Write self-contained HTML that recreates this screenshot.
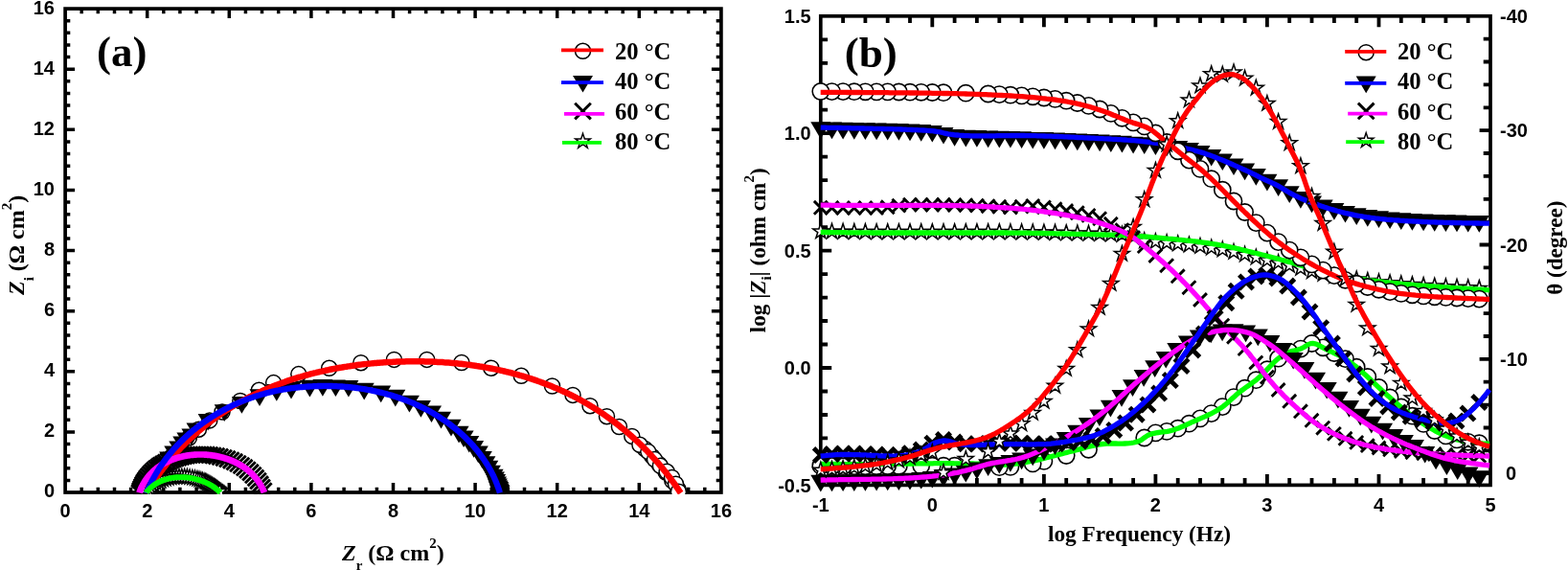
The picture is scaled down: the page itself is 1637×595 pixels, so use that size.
<!DOCTYPE html>
<html><head><meta charset="utf-8"><title>EIS Nyquist and Bode plots</title>
<style>html,body{margin:0;padding:0;background:#fff}svg{display:block}</style></head>
<body><svg width="1637" height="595" viewBox="0 0 1637 595">
<rect width="1637" height="595" fill="#fff"/>
<defs>
<circle id="mc" cx="0" cy="0" r="8.0" fill="#fff" stroke="#000" stroke-width="1.5"/>
<circle id="mcb" cx="0" cy="0" r="8.6" fill="#fff" stroke="#000" stroke-width="1.6"/>
<polygon id="mt" points="-10.5,-7.3 10.5,-7.3 0,10.4" fill="#000"/>
<path id="mx" d="M-8.3 -8.3L8.3 8.3M-8.3 8.3L8.3 -8.3" stroke="#000" stroke-width="3" fill="none"/>
<path id="mxs" d="M-6.9 -6.9L6.9 6.9M-6.9 6.9L6.9 -6.9" stroke="#000" stroke-width="2.9" fill="none"/>
<path id="mxb" d="M-7.3 -7.3L7.3 7.3M-7.3 7.3L7.3 -7.3" stroke="#000" stroke-width="4.8" fill="none"/>
<polygon id="ms" points="0.00,-8.20 1.84,-2.53 7.80,-2.53 2.98,0.97 4.82,6.63 0.00,3.13 -4.82,6.63 -2.98,0.97 -7.80,-2.53 -1.84,-2.53" fill="#fff" stroke="#000" stroke-width="1.45" stroke-linejoin="miter"/>
<polygon id="msb" points="0.00,-8.40 1.89,-2.60 7.99,-2.60 3.05,0.99 4.94,6.80 0.00,3.21 -4.94,6.80 -3.05,0.99 -7.99,-2.60 -1.89,-2.60" fill="#fff" stroke="#000" stroke-width="1.5" stroke-linejoin="miter"/>
<clipPath id="ca"><rect x="56.1" y="-2.9" width="708.8" height="518.8"/></clipPath>
<clipPath id="cb"><rect x="844.8" y="4.8" width="723.2" height="507.6"/></clipPath>
</defs>
<rect x="68.1" y="9.1" width="684.8" height="504.9" fill="none" stroke="#000" stroke-width="3.7"/><path d="M85.2 514 v-5.2M85.2 9.1 v5.2M102.3 514 v-5.2M102.3 9.1 v5.2M119.5 514 v-5.2M119.5 9.1 v5.2M136.6 514 v-5.2M136.6 9.1 v5.2M153.7 514 v-10M153.7 9.1 v10M170.8 514 v-5.2M170.8 9.1 v5.2M187.9 514 v-5.2M187.9 9.1 v5.2M205.1 514 v-5.2M205.1 9.1 v5.2M222.2 514 v-5.2M222.2 9.1 v5.2M239.3 514 v-10M239.3 9.1 v10M256.4 514 v-5.2M256.4 9.1 v5.2M273.5 514 v-5.2M273.5 9.1 v5.2M290.7 514 v-5.2M290.7 9.1 v5.2M307.8 514 v-5.2M307.8 9.1 v5.2M324.9 514 v-10M324.9 9.1 v10M342 514 v-5.2M342 9.1 v5.2M359.1 514 v-5.2M359.1 9.1 v5.2M376.3 514 v-5.2M376.3 9.1 v5.2M393.4 514 v-5.2M393.4 9.1 v5.2M410.5 514 v-10M410.5 9.1 v10M427.6 514 v-5.2M427.6 9.1 v5.2M444.7 514 v-5.2M444.7 9.1 v5.2M461.9 514 v-5.2M461.9 9.1 v5.2M479 514 v-5.2M479 9.1 v5.2M496.1 514 v-10M496.1 9.1 v10M513.2 514 v-5.2M513.2 9.1 v5.2M530.3 514 v-5.2M530.3 9.1 v5.2M547.5 514 v-5.2M547.5 9.1 v5.2M564.6 514 v-5.2M564.6 9.1 v5.2M581.7 514 v-10M581.7 9.1 v10M598.8 514 v-5.2M598.8 9.1 v5.2M615.9 514 v-5.2M615.9 9.1 v5.2M633.1 514 v-5.2M633.1 9.1 v5.2M650.2 514 v-5.2M650.2 9.1 v5.2M667.3 514 v-10M667.3 9.1 v10M684.4 514 v-5.2M684.4 9.1 v5.2M701.5 514 v-5.2M701.5 9.1 v5.2M718.7 514 v-5.2M718.7 9.1 v5.2M735.8 514 v-5.2M735.8 9.1 v5.2M68.1 501.4 h5.2M752.9 501.4 h-5.2M68.1 488.8 h5.2M752.9 488.8 h-5.2M68.1 476.1 h5.2M752.9 476.1 h-5.2M68.1 463.5 h5.2M752.9 463.5 h-5.2M68.1 450.9 h10M752.9 450.9 h-10M68.1 438.3 h5.2M752.9 438.3 h-5.2M68.1 425.6 h5.2M752.9 425.6 h-5.2M68.1 413 h5.2M752.9 413 h-5.2M68.1 400.4 h5.2M752.9 400.4 h-5.2M68.1 387.8 h10M752.9 387.8 h-10M68.1 375.2 h5.2M752.9 375.2 h-5.2M68.1 362.5 h5.2M752.9 362.5 h-5.2M68.1 349.9 h5.2M752.9 349.9 h-5.2M68.1 337.3 h5.2M752.9 337.3 h-5.2M68.1 324.7 h10M752.9 324.7 h-10M68.1 312 h5.2M752.9 312 h-5.2M68.1 299.4 h5.2M752.9 299.4 h-5.2M68.1 286.8 h5.2M752.9 286.8 h-5.2M68.1 274.2 h5.2M752.9 274.2 h-5.2M68.1 261.6 h10M752.9 261.6 h-10M68.1 248.9 h5.2M752.9 248.9 h-5.2M68.1 236.3 h5.2M752.9 236.3 h-5.2M68.1 223.7 h5.2M752.9 223.7 h-5.2M68.1 211.1 h5.2M752.9 211.1 h-5.2M68.1 198.4 h10M752.9 198.4 h-10M68.1 185.8 h5.2M752.9 185.8 h-5.2M68.1 173.2 h5.2M752.9 173.2 h-5.2M68.1 160.6 h5.2M752.9 160.6 h-5.2M68.1 147.9 h5.2M752.9 147.9 h-5.2M68.1 135.3 h10M752.9 135.3 h-10M68.1 122.7 h5.2M752.9 122.7 h-5.2M68.1 110.1 h5.2M752.9 110.1 h-5.2M68.1 97.5 h5.2M752.9 97.5 h-5.2M68.1 84.8 h5.2M752.9 84.8 h-5.2M68.1 72.2 h10M752.9 72.2 h-10M68.1 59.6 h5.2M752.9 59.6 h-5.2M68.1 47 h5.2M752.9 47 h-5.2M68.1 34.3 h5.2M752.9 34.3 h-5.2M68.1 21.7 h5.2M752.9 21.7 h-5.2" stroke="#000" stroke-width="3.5" fill="none"/>
<g clip-path="url(#ca)">
<use href="#mc" x="152.7" y="514.8"/><use href="#mc" x="154.3" y="512.2"/><use href="#mc" x="156" y="509.4"/><use href="#mc" x="158" y="506.4"/><use href="#mc" x="160.2" y="503"/><use href="#mc" x="162.7" y="499.4"/><use href="#mc" x="165.6" y="495.4"/><use href="#mc" x="168.8" y="491.1"/><use href="#mc" x="172.4" y="486.4"/><use href="#mc" x="176.5" y="481.3"/><use href="#mc" x="181.2" y="475.8"/><use href="#mc" x="186.6" y="469.9"/><use href="#mc" x="673.2" y="468.5"/><use href="#mc" x="680.8" y="476.4"/><use href="#mc" x="688.1" y="484.6"/><use href="#mc" x="695.1" y="493.1"/><use href="#mc" x="701.8" y="501.9"/><use href="#mc" x="708.1" y="510.9"/><use href="#mc" x="197.4" y="457"/><use href="#mc" x="207.4" y="448.2"/><use href="#mc" x="218.8" y="438.9"/><use href="#mc" x="232" y="430"/><use href="#mc" x="250.8" y="418.5"/><use href="#mc" x="270.4" y="407.3"/><use href="#mc" x="285.6" y="399.6"/><use href="#mc" x="311.8" y="390.6"/><use href="#mc" x="343.7" y="384.3"/><use href="#mc" x="376.8" y="378.7"/><use href="#mc" x="411.4" y="375.4"/><use href="#mc" x="445.7" y="375.4"/><use href="#mc" x="481.9" y="378.5"/><use href="#mc" x="512.8" y="384.2"/><use href="#mc" x="544.2" y="392.3"/><use href="#mc" x="576.5" y="403"/><use href="#mc" x="598" y="412.4"/><use href="#mc" x="616" y="423.7"/><use href="#mc" x="633.5" y="434.7"/><use href="#mc" x="646.4" y="445.5"/><use href="#mc" x="659.8" y="455.4"/><use href="#mc" x="667.9" y="464.3"/><use href="#mc" x="676.8" y="471.6"/><use href="#mc" x="683.5" y="479.6"/><use href="#mc" x="689.4" y="486.3"/><use href="#mc" x="696.1" y="492.3"/><use href="#mc" x="701.5" y="498.4"/><use href="#mc" x="705.5" y="505.2"/><use href="#mc" x="708.4" y="513.2"/>
<use href="#mt" x="152.8" y="514.8"/><use href="#mt" x="153.4" y="513.4"/><use href="#mt" x="154" y="511.9"/><use href="#mt" x="154.8" y="510.2"/><use href="#mt" x="155.6" y="508.3"/><use href="#mt" x="156.6" y="506.3"/><use href="#mt" x="157.7" y="504"/><use href="#mt" x="158.9" y="501.5"/><use href="#mt" x="160.4" y="498.8"/><use href="#mt" x="162.1" y="495.8"/><use href="#mt" x="164" y="492.6"/><use href="#mt" x="166.2" y="489"/><use href="#mt" x="168.8" y="485.1"/><use href="#mt" x="176.7" y="478.9"/><use href="#mt" x="181.8" y="472.9"/><use href="#mt" x="186.8" y="467.8"/><use href="#mt" x="190.8" y="462.8"/><use href="#mt" x="194.9" y="458.7"/><use href="#mt" x="199.9" y="454.7"/><use href="#mt" x="205" y="448.7"/><use href="#mt" x="217.1" y="439.2"/><use href="#mt" x="234.2" y="429.5"/><use href="#mt" x="252.4" y="421.3"/><use href="#mt" x="271" y="413.5"/><use href="#mt" x="288.8" y="408.3"/><use href="#mt" x="304" y="406"/><use href="#mt" x="323.4" y="404"/><use href="#mt" x="336.9" y="403.3"/><use href="#mt" x="350.4" y="403.7"/><use href="#mt" x="363.9" y="404.2"/><use href="#mt" x="380.2" y="407"/><use href="#mt" x="397.7" y="409.8"/><use href="#mt" x="412.8" y="414"/><use href="#mt" x="427.4" y="420"/><use href="#mt" x="439.4" y="425.4"/><use href="#mt" x="450.5" y="430.7"/><use href="#mt" x="460.5" y="437"/><use href="#mt" x="471" y="445"/><use href="#mt" x="479.1" y="452.1"/><use href="#mt" x="484.1" y="456.7"/><use href="#mt" x="489.8" y="462.2"/><use href="#mt" x="494.6" y="467.4"/><use href="#mt" x="499.3" y="472.9"/><use href="#mt" x="503.3" y="478.3"/><use href="#mt" x="506.9" y="483.6"/><use href="#mt" x="509.8" y="488"/><use href="#mt" x="512.4" y="493"/><use href="#mt" x="515.1" y="497"/><use href="#mt" x="516.4" y="499.8"/><use href="#mt" x="517.6" y="502.4"/><use href="#mt" x="518.5" y="504.7"/><use href="#mt" x="519.3" y="506.8"/><use href="#mt" x="520" y="508.7"/><use href="#mt" x="520.6" y="510.4"/><use href="#mt" x="521.1" y="511.9"/><use href="#mt" x="521.6" y="513.3"/><use href="#mt" x="522" y="514.6"/>
<use href="#mx" x="145.5" y="514.4"/><use href="#mx" x="146.2" y="512.3"/><use href="#mx" x="147.1" y="510.2"/><use href="#mx" x="148.1" y="508"/><use href="#mx" x="149.2" y="505.8"/><use href="#mx" x="150.4" y="503.6"/><use href="#mx" x="151.8" y="501.4"/><use href="#mx" x="153.4" y="499.2"/><use href="#mx" x="155.2" y="497"/><use href="#mx" x="157" y="494.9"/><use href="#mx" x="159" y="492.9"/><use href="#mx" x="161.1" y="490.9"/><use href="#mx" x="163.3" y="489.1"/><use href="#mx" x="165.5" y="487.4"/><use href="#mx" x="167.9" y="485.8"/><use href="#mx" x="170.3" y="484.3"/><use href="#mx" x="172.8" y="482.9"/><use href="#mx" x="175.4" y="481.6"/><use href="#mx" x="178.1" y="480.5"/><use href="#mx" x="180.8" y="479.4"/><use href="#mx" x="183.5" y="478.4"/><use href="#mx" x="186.3" y="477.6"/><use href="#mx" x="189.1" y="476.8"/><use href="#mx" x="192" y="476.2"/><use href="#mx" x="194.9" y="475.6"/><use href="#mx" x="197.8" y="475.2"/><use href="#mx" x="200.7" y="474.9"/><use href="#mx" x="203.7" y="474.6"/><use href="#mx" x="206.7" y="474.5"/><use href="#mx" x="209.7" y="474.5"/><use href="#mx" x="212.7" y="474.5"/><use href="#mx" x="215.8" y="474.7"/><use href="#mx" x="219" y="475"/><use href="#mx" x="222.5" y="475.5"/><use href="#mx" x="226" y="476.1"/><use href="#mx" x="229.8" y="476.9"/><use href="#mx" x="233.6" y="478"/><use href="#mx" x="237.4" y="479.2"/><use href="#mx" x="241.2" y="480.6"/><use href="#mx" x="244.8" y="482.2"/><use href="#mx" x="248.4" y="484"/><use href="#mx" x="251.9" y="486"/><use href="#mx" x="255.2" y="488.2"/><use href="#mx" x="258.4" y="490.6"/><use href="#mx" x="261.5" y="493.2"/><use href="#mx" x="264.3" y="496"/><use href="#mx" x="267" y="498.9"/><use href="#mx" x="269.5" y="502.1"/><use href="#mx" x="271.7" y="505.4"/><use href="#mx" x="273.6" y="508.9"/><use href="#mx" x="275.3" y="512.6"/>
<use href="#ms" x="152.7" y="513.8"/><use href="#ms" x="154.5" y="511.6"/><use href="#ms" x="156.4" y="509.6"/><use href="#ms" x="158.5" y="507.7"/><use href="#ms" x="160.7" y="506"/><use href="#ms" x="163" y="504.4"/><use href="#ms" x="165.4" y="503"/><use href="#ms" x="168" y="501.8"/><use href="#ms" x="170.5" y="500.7"/><use href="#ms" x="173.2" y="499.9"/><use href="#ms" x="175.9" y="499.1"/><use href="#ms" x="178.6" y="498.5"/><use href="#ms" x="181.4" y="498.1"/><use href="#ms" x="184.2" y="497.8"/><use href="#ms" x="187" y="497.6"/><use href="#ms" x="189.8" y="497.6"/><use href="#ms" x="192.6" y="497.7"/><use href="#ms" x="195.4" y="497.9"/><use href="#ms" x="198.1" y="498.3"/><use href="#ms" x="200.9" y="498.8"/><use href="#ms" x="203.5" y="499.3"/><use href="#ms" x="205.9" y="500"/><use href="#ms" x="208" y="500.6"/><use href="#ms" x="209.9" y="501.2"/><use href="#ms" x="211.6" y="501.9"/><use href="#ms" x="213.1" y="502.5"/><use href="#ms" x="214.4" y="503.1"/><use href="#ms" x="215.7" y="503.6"/><use href="#ms" x="216.8" y="504.2"/><use href="#ms" x="217.8" y="504.7"/><use href="#ms" x="218.9" y="505.3"/><use href="#ms" x="219.9" y="505.9"/><use href="#ms" x="220.9" y="506.5"/><use href="#ms" x="221.8" y="507.1"/><use href="#ms" x="222.8" y="507.7"/><use href="#ms" x="223.7" y="508.3"/><use href="#ms" x="224.6" y="508.9"/><use href="#ms" x="225.4" y="509.6"/><use href="#ms" x="226.3" y="510.3"/><use href="#ms" x="227.1" y="510.9"/><use href="#ms" x="227.9" y="511.6"/><use href="#ms" x="228.6" y="512.3"/><use href="#ms" x="229.4" y="513"/>
<path d="M152.7 514.8 L153.6 513.4 L154.4 512 L155.3 510.6 L156.2 509.2 L157 507.9 L157.9 506.5 L158.8 505.1 L159.7 503.8 L160.6 502.4 L161.6 501.1 L162.5 499.7 L163.4 498.4 L164.4 497 L165.3 495.7 L166.3 494.4 L167.3 493.1 L168.3 491.7 L169.3 490.4 L170.3 489.1 L171.3 487.8 L172.3 486.6 L173.3 485.3 L174.3 484 L175.4 482.7 L176.4 481.5 L177.5 480.2 L178.5 479 L179.6 477.7 L180.7 476.5 L181.8 475.2 L182.9 474 L184 472.8 L185.1 471.6 L186.2 470.4 L187.3 469.2 L188.4 468 L189.6 466.8 L190.7 465.6 L191.9 464.5 L193 463.3 L194.2 462.2 L195.4 461 L196.5 459.9 L197.7 458.7 L198.9 457.6 L200.1 456.5 L201.3 455.4 L202.5 454.3 L203.7 453.2 L205 452.1 L206.2 451 L207.4 450 L208.7 448.9 L209.9 447.9 L211.2 446.8 L212.5 445.8 L213.7 444.7 L215 443.7 L216.3 442.7 L217.6 441.7 L218.9 440.7 L220.2 439.7 L221.5 438.7 L222.8 437.8 L224.1 436.8 L225.4 435.8 L226.7 434.9 L228.1 434 L229.4 433 L230.7 432.1 L232.1 431.2 L233.4 430.3 L234.8 429.4 L236.1 428.5 L237.5 427.6 L238.9 426.7 L240.2 425.9 L241.6 425 L243 424.2 L244.4 423.3 L245.8 422.5 L247.2 421.7 L248.6 420.9 L250 420.1 L251.4 419.3 L252.8 418.5 L254.2 417.7 L255.7 417 L257.1 416.2 L258.5 415.5 L260 414.7 L261.4 414 L262.8 413.2 L264.3 412.5 L265.7 411.8 L267.2 411.1 L268.7 410.4 L270.1 409.7 L271.6 409.1 L273.1 408.4 L274.5 407.7 L276 407.1 L277.5 406.4 L279 405.8 L280.5 405.2 L282 404.5 L283.4 403.9 L284.9 403.3 L286.4 402.7 L288 402.1 L289.5 401.6 L291 401 L292.5 400.4 L294 399.9 L295.5 399.3 L297.1 398.8 L298.6 398.2 L300.1 397.7 L301.6 397.2 L303.2 396.7 L304.7 396.2 L306.3 395.7 L307.8 395.2 L309.4 394.7 L310.9 394.2 L312.5 393.7 L314 393.3 L315.6 392.8 L317.1 392.4 L318.7 391.9 L320.3 391.5 L321.8 391.1 L323.4 390.7 L325 390.2 L326.6 389.8 L328.1 389.4 L329.7 389.1 L331.3 388.7 L332.9 388.3 L334.5 387.9 L336.1 387.6 L337.7 387.2 L339.3 386.9 L340.9 386.5 L342.5 386.2 L344.1 385.8 L345.7 385.5 L347.3 385.2 L348.9 384.9 L350.5 384.6 L352.1 384.3 L353.7 384 L355.3 383.7 L356.9 383.5 L358.5 383.2 L360.2 382.9 L361.8 382.7 L363.4 382.4 L365 382.2 L366.6 381.9 L368.3 381.7 L369.9 381.5 L371.5 381.3 L373.1 381 L374.8 380.8 L376.4 380.6 L378 380.4 L379.7 380.2 L381.3 380.1 L382.9 379.9 L384.6 379.7 L386.2 379.6 L387.8 379.4 L389.5 379.2 L391.1 379.1 L392.8 379 L394.4 378.8 L396 378.7 L397.7 378.6 L399.3 378.4 L401 378.3 L402.6 378.2 L404.3 378.1 L405.9 378 L407.5 377.9 L409.2 377.9 L410.8 377.8 L412.5 377.7 L414.1 377.6 L415.8 377.6 L417.4 377.5 L419.1 377.5 L420.7 377.4 L422.4 377.4 L424 377.3 L425.7 377.3 L427.3 377.3 L428.9 377.3 L430.6 377.3 L432.2 377.3 L433.9 377.3 L435.5 377.3 L437.2 377.3 L438.8 377.3 L440.5 377.3 L442.1 377.3 L443.8 377.4 L445.4 377.4 L447 377.5 L448.7 377.5 L450.3 377.6 L452 377.6 L453.6 377.7 L455.3 377.8 L456.9 377.9 L458.5 377.9 L460.2 378 L461.8 378.1 L463.5 378.3 L465.1 378.4 L466.7 378.5 L468.4 378.6 L470 378.7 L471.6 378.9 L473.3 379 L474.9 379.2 L476.5 379.3 L478.1 379.5 L479.8 379.7 L481.4 379.8 L483 380 L484.7 380.2 L486.3 380.4 L487.9 380.6 L489.5 380.8 L491.1 381 L492.8 381.3 L494.4 381.5 L496 381.7 L497.6 382 L499.2 382.2 L500.8 382.5 L502.4 382.7 L504 383 L505.6 383.3 L507.3 383.6 L508.9 383.9 L510.5 384.2 L512.1 384.5 L513.7 384.8 L515.2 385.1 L516.8 385.4 L518.4 385.7 L520 386.1 L521.6 386.4 L523.2 386.8 L524.8 387.1 L526.4 387.5 L527.9 387.9 L529.5 388.3 L531.1 388.6 L532.7 389 L534.2 389.4 L535.8 389.9 L537.4 390.3 L538.9 390.7 L540.5 391.1 L542 391.6 L543.6 392 L545.2 392.5 L546.7 392.9 L548.3 393.4 L549.8 393.9 L551.3 394.4 L552.9 394.8 L554.4 395.3 L556 395.9 L557.5 396.4 L559 396.9 L560.6 397.4 L562.1 398 L563.6 398.5 L565.1 399.1 L566.6 399.6 L568.1 400.2 L569.7 400.8 L571.2 401.3 L572.7 401.9 L574.2 402.5 L575.7 403.1 L577.2 403.8 L578.6 404.4 L580.1 405 L581.6 405.6 L583.1 406.3 L584.6 406.9 L586 407.6 L587.5 408.3 L589 409 L590.4 409.6 L591.9 410.3 L593.4 411 L594.8 411.8 L596.3 412.5 L597.7 413.2 L599.1 413.9 L600.6 414.7 L602 415.4 L603.4 416.2 L604.9 417 L606.3 417.7 L607.7 418.5 L609.1 419.3 L610.5 420.1 L611.9 420.9 L613.4 421.8 L614.7 422.6 L616.1 423.4 L617.5 424.3 L618.9 425.1 L620.3 426 L621.7 426.9 L623.1 427.7 L624.4 428.6 L625.8 429.5 L627.1 430.4 L628.5 431.3 L629.8 432.2 L631.2 433.2 L632.5 434.1 L633.9 435.1 L635.2 436 L636.5 437 L637.9 437.9 L639.2 438.9 L640.5 439.9 L641.8 440.9 L643.1 441.9 L644.4 442.9 L645.7 443.9 L647 444.9 L648.2 445.9 L649.5 447 L650.8 448 L652.1 449.1 L653.3 450.1 L654.6 451.2 L655.8 452.2 L657 453.3 L658.3 454.4 L659.5 455.5 L660.7 456.6 L662 457.7 L663.2 458.8 L664.4 459.9 L665.6 461 L666.8 462.2 L668 463.3 L669.1 464.4 L670.3 465.6 L671.5 466.7 L672.6 467.9 L673.8 469.1 L675 470.2 L676.1 471.4 L677.2 472.6 L678.4 473.8 L679.5 475 L680.6 476.2 L681.7 477.4 L682.8 478.6 L683.9 479.8 L685 481.1 L686.1 482.3 L687.2 483.5 L688.2 484.8 L689.3 486 L690.3 487.3 L691.4 488.5 L692.4 489.8 L693.4 491.1 L694.5 492.3 L695.5 493.6 L696.5 494.9 L697.5 496.2 L698.5 497.5 L699.5 498.8 L700.5 500.1 L701.4 501.4 L702.4 502.7 L703.3 504 L704.3 505.3 L705.2 506.7 L706.2 508 L707.1 509.3 L708 510.7 L708.9 512 L709.8 513.4 L710.7 514.7" fill="none" stroke="#ff0000" stroke-width="6.5" stroke-linejoin="round"/>
<path d="M145.5 514.4 L145.6 514 L145.8 513.6 L145.9 513.2 L146.1 512.8 L146.2 512.4 L146.4 512 L146.5 511.6 L146.7 511.2 L146.8 510.8 L147 510.4 L147.2 510 L147.3 509.6 L147.5 509.2 L147.7 508.8 L147.9 508.5 L148 508.1 L148.2 507.7 L148.4 507.3 L148.6 507 L148.8 506.6 L149 506.2 L149.2 505.9 L149.4 505.5 L149.6 505.1 L149.8 504.8 L150 504.4 L150.2 504.1 L150.4 503.7 L150.6 503.4 L150.8 503 L151 502.7 L151.2 502.3 L151.5 502 L151.7 501.7 L151.9 501.3 L152.1 501 L152.4 500.7 L152.6 500.3 L152.8 500 L153.1 499.7 L153.3 499.3 L153.5 499 L153.8 498.7 L154 498.4 L154.3 498.1 L154.5 497.8 L154.8 497.4 L155 497.1 L155.3 496.8 L155.6 496.5 L155.8 496.2 L156.1 495.9 L156.3 495.6 L156.6 495.3 L156.9 495 L157.1 494.7 L157.4 494.5 L157.7 494.2 L158 493.9 L158.3 493.6 L158.5 493.3 L158.8 493 L159.1 492.8 L159.4 492.5 L159.7 492.2 L160 491.9 L160.3 491.7 L160.6 491.4 L160.8 491.1 L161.1 490.9 L161.4 490.6 L161.7 490.4 L162.1 490.1 L162.4 489.9 L162.7 489.6 L163 489.4 L163.3 489.1 L163.6 488.9 L163.9 488.6 L164.2 488.4 L164.5 488.1 L164.9 487.9 L165.2 487.7 L165.5 487.4 L165.8 487.2 L166.2 487 L166.5 486.7 L166.8 486.5 L167.1 486.3 L167.5 486.1 L167.8 485.9 L168.1 485.6 L168.5 485.4 L168.8 485.2 L169.2 485 L169.5 484.8 L169.8 484.6 L170.2 484.4 L170.5 484.2 L170.9 484 L171.2 483.8 L171.6 483.6 L171.9 483.4 L172.3 483.2 L172.6 483 L173 482.8 L173.4 482.7 L173.7 482.5 L174.1 482.3 L174.4 482.1 L174.8 481.9 L175.2 481.8 L175.5 481.6 L175.9 481.4 L176.3 481.3 L176.6 481.1 L177 480.9 L177.4 480.8 L177.7 480.6 L178.1 480.5 L178.5 480.3 L178.9 480.1 L179.2 480 L179.6 479.8 L180 479.7 L180.4 479.5 L180.7 479.4 L181.1 479.3 L181.5 479.1 L181.9 479 L182.3 478.9 L182.7 478.7 L183 478.6 L183.4 478.5 L183.8 478.3 L184.2 478.2 L184.6 478.1 L185 478 L185.4 477.8 L185.8 477.7 L186.2 477.6 L186.6 477.5 L187 477.4 L187.4 477.3 L187.8 477.2 L188.2 477.1 L188.6 477 L189 476.9 L189.4 476.8 L189.8 476.7 L190.2 476.6 L190.6 476.5 L191 476.4 L191.4 476.3 L191.8 476.2 L192.2 476.1 L192.6 476.1 L193 476 L193.4 475.9 L193.8 475.8 L194.2 475.8 L194.6 475.7 L195 475.6 L195.4 475.6 L195.8 475.5 L196.3 475.4 L196.7 475.4 L197.1 475.3 L197.5 475.2 L197.9 475.2 L198.3 475.1 L198.7 475.1 L199.1 475 L199.6 475 L200 474.9 L200.4 474.9 L200.8 474.9 L201.2 474.8 L201.6 474.8 L202 474.8 L202.5 474.7 L202.9 474.7 L203.3 474.7 L203.7 474.6 L204.1 474.6 L204.5 474.6 L205 474.6 L205.4 474.5 L205.8 474.5 L206.2 474.5 L206.6 474.5 L207.1 474.5 L207.5 474.5 L207.9 474.5 L208.3 474.5 L208.7 474.5 L209.2 474.5 L209.6 474.5 L210 474.5 L210.4 474.5 L210.8 474.5 L211.3 474.5 L211.7 474.5 L212.1 474.5 L212.5 474.5 L212.9 474.5 L213.3 474.6 L213.8 474.6 L214.2 474.6 L214.6 474.6 L215 474.7 L215.4 474.7 L215.9 474.7 L216.3 474.8 L216.7 474.8 L217.1 474.8 L217.5 474.9 L218 474.9 L218.4 475 L218.8 475 L219.2 475 L219.6 475.1 L220 475.1 L220.5 475.2 L220.9 475.3 L221.3 475.3 L221.7 475.4 L222.1 475.4 L222.5 475.5 L222.9 475.6 L223.4 475.6 L223.8 475.7 L224.2 475.8 L224.6 475.8 L225 475.9 L225.4 476 L225.8 476.1 L226.2 476.1 L226.6 476.2 L227.1 476.3 L227.5 476.4 L227.9 476.5 L228.3 476.6 L228.7 476.7 L229.1 476.8 L229.5 476.9 L229.9 477 L230.3 477.1 L230.7 477.2 L231.1 477.3 L231.5 477.4 L231.9 477.5 L232.3 477.6 L232.7 477.7 L233.1 477.8 L233.5 477.9 L233.9 478 L234.3 478.2 L234.7 478.3 L235.1 478.4 L235.5 478.5 L235.9 478.7 L236.3 478.8 L236.7 478.9 L237.1 479.1 L237.5 479.2 L237.9 479.3 L238.2 479.5 L238.6 479.6 L239 479.8 L239.4 479.9 L239.8 480 L240.2 480.2 L240.6 480.3 L240.9 480.5 L241.3 480.7 L241.7 480.8 L242.1 481 L242.5 481.1 L242.8 481.3 L243.2 481.5 L243.6 481.6 L244 481.8 L244.3 482 L244.7 482.1 L245.1 482.3 L245.4 482.5 L245.8 482.7 L246.2 482.8 L246.5 483 L246.9 483.2 L247.3 483.4 L247.6 483.6 L248 483.8 L248.3 484 L248.7 484.2 L249.1 484.3 L249.4 484.5 L249.8 484.7 L250.1 484.9 L250.5 485.1 L250.8 485.4 L251.2 485.6 L251.5 485.8 L251.9 486 L252.2 486.2 L252.5 486.4 L252.9 486.6 L253.2 486.8 L253.6 487.1 L253.9 487.3 L254.2 487.5 L254.6 487.7 L254.9 488 L255.2 488.2 L255.6 488.4 L255.9 488.6 L256.2 488.9 L256.5 489.1 L256.9 489.4 L257.2 489.6 L257.5 489.8 L257.8 490.1 L258.1 490.3 L258.4 490.6 L258.8 490.8 L259.1 491.1 L259.4 491.3 L259.7 491.6 L260 491.9 L260.3 492.1 L260.6 492.4 L260.9 492.6 L261.2 492.9 L261.5 493.2 L261.8 493.4 L262.1 493.7 L262.4 494 L262.6 494.3 L262.9 494.5 L263.2 494.8 L263.5 495.1 L263.8 495.4 L264.1 495.7 L264.3 495.9 L264.6 496.2 L264.9 496.5 L265.1 496.8 L265.4 497.1 L265.7 497.4 L265.9 497.7 L266.2 498 L266.5 498.3 L266.7 498.6 L267 498.9 L267.2 499.2 L267.5 499.5 L267.7 499.8 L268 500.1 L268.2 500.5 L268.5 500.8 L268.7 501.1 L268.9 501.4 L269.2 501.7 L269.4 502.1 L269.6 502.4 L269.9 502.7 L270.1 503 L270.3 503.4 L270.5 503.7 L270.8 504 L271 504.4 L271.2 504.7 L271.4 505.1 L271.6 505.4 L271.8 505.7 L272 506.1 L272.2 506.4 L272.4 506.8 L272.6 507.1 L272.8 507.5 L273 507.8 L273.2 508.2 L273.4 508.6 L273.6 508.9 L273.8 509.3 L273.9 509.6 L274.1 510 L274.3 510.4 L274.5 510.7 L274.6 511.1 L274.8 511.5 L275 511.9 L275.1 512.2 L275.3 512.6 L275.5 513 L275.6 513.4 L275.8 513.8 L275.9 514.1" fill="none" stroke="#ff00ff" stroke-width="6.7" stroke-linejoin="round"/>
<path d="M152.8 514.8 L153.2 513.7 L153.7 512.6 L154.1 511.6 L154.6 510.5 L155.1 509.4 L155.6 508.4 L156.1 507.3 L156.6 506.3 L157.1 505.2 L157.6 504.2 L158.1 503.2 L158.6 502.1 L159.2 501.1 L159.7 500.1 L160.3 499.1 L160.8 498.1 L161.4 497.1 L161.9 496.1 L162.5 495.1 L163.1 494.1 L163.7 493.1 L164.3 492.1 L164.9 491.1 L165.5 490.2 L166.1 489.2 L166.7 488.2 L167.4 487.3 L168 486.3 L168.6 485.4 L169.3 484.4 L169.9 483.5 L170.6 482.5 L171.3 481.6 L172 480.7 L172.6 479.8 L173.3 478.8 L174 477.9 L174.7 477 L175.4 476.1 L176.1 475.2 L176.8 474.3 L177.6 473.4 L178.3 472.6 L179 471.7 L179.8 470.8 L180.5 469.9 L181.3 469.1 L182 468.2 L182.8 467.4 L183.6 466.5 L184.4 465.7 L185.1 464.8 L185.9 464 L186.7 463.2 L187.5 462.3 L188.3 461.5 L189.1 460.7 L190 459.9 L190.8 459.1 L191.6 458.3 L192.4 457.5 L193.3 456.7 L194.1 455.9 L195 455.1 L195.8 454.4 L196.7 453.6 L197.5 452.8 L198.4 452.1 L199.3 451.3 L200.2 450.6 L201 449.8 L201.9 449.1 L202.8 448.4 L203.7 447.7 L204.6 446.9 L205.5 446.2 L206.5 445.5 L207.4 444.8 L208.3 444.1 L209.2 443.4 L210.1 442.7 L211.1 442 L212 441.4 L213 440.7 L213.9 440 L214.9 439.4 L215.8 438.7 L216.8 438.1 L217.7 437.4 L218.7 436.8 L219.7 436.1 L220.7 435.5 L221.6 434.9 L222.6 434.3 L223.6 433.7 L224.6 433.1 L225.6 432.5 L226.6 431.9 L227.6 431.3 L228.6 430.7 L229.6 430.1 L230.6 429.6 L231.6 429 L232.6 428.5 L233.6 427.9 L234.6 427.4 L235.7 426.8 L236.7 426.3 L237.7 425.8 L238.7 425.2 L239.8 424.7 L240.8 424.2 L241.8 423.7 L242.9 423.2 L243.9 422.7 L245 422.2 L246 421.8 L247.1 421.3 L248.1 420.8 L249.2 420.4 L250.2 419.9 L251.3 419.5 L252.3 419 L253.4 418.6 L254.5 418.2 L255.5 417.7 L256.6 417.3 L257.7 416.9 L258.7 416.5 L259.8 416.1 L260.9 415.7 L262 415.3 L263.1 415 L264.1 414.6 L265.2 414.2 L266.3 413.8 L267.4 413.5 L268.5 413.1 L269.6 412.8 L270.7 412.5 L271.8 412.1 L272.9 411.8 L274 411.5 L275.1 411.2 L276.2 410.9 L277.3 410.6 L278.4 410.3 L279.5 410 L280.6 409.7 L281.7 409.4 L282.8 409.2 L283.9 408.9 L285 408.7 L286.2 408.4 L287.3 408.2 L288.4 407.9 L289.5 407.7 L290.6 407.5 L291.8 407.3 L292.9 407 L294 406.8 L295.1 406.6 L296.3 406.4 L297.4 406.3 L298.5 406.1 L299.7 405.9 L300.8 405.7 L301.9 405.6 L303.1 405.4 L304.2 405.2 L305.3 405.1 L306.5 405 L307.6 404.8 L308.8 404.7 L309.9 404.6 L311 404.4 L312.2 404.3 L313.3 404.2 L314.5 404.1 L315.6 404 L316.8 403.9 L317.9 403.8 L319.1 403.7 L320.2 403.6 L321.4 403.5 L322.5 403.5 L323.7 403.4 L324.8 403.3 L326 403.3 L327.1 403.2 L328.3 403.2 L329.4 403.1 L330.6 403.1 L331.8 403 L332.9 403 L334.1 403 L335.2 403 L336.4 403 L337.5 402.9 L338.7 402.9 L339.9 402.9 L341 402.9 L342.2 403 L343.3 403 L344.5 403 L345.7 403 L346.8 403 L348 403.1 L349.1 403.1 L350.3 403.2 L351.4 403.2 L352.6 403.3 L353.8 403.3 L354.9 403.4 L356.1 403.5 L357.2 403.5 L358.4 403.6 L359.5 403.7 L360.7 403.8 L361.9 403.9 L363 404 L364.2 404.1 L365.3 404.2 L366.5 404.4 L367.6 404.5 L368.8 404.6 L369.9 404.7 L371.1 404.9 L372.2 405 L373.4 405.2 L374.5 405.3 L375.7 405.5 L376.8 405.7 L378 405.8 L379.1 406 L380.2 406.2 L381.4 406.4 L382.5 406.6 L383.7 406.8 L384.8 407 L385.9 407.2 L387.1 407.4 L388.2 407.6 L389.3 407.9 L390.5 408.1 L391.6 408.3 L392.7 408.6 L393.8 408.8 L395 409.1 L396.1 409.4 L397.2 409.6 L398.3 409.9 L399.5 410.2 L400.6 410.5 L401.7 410.8 L402.8 411.1 L403.9 411.4 L405 411.7 L406.1 412 L407.2 412.3 L408.4 412.6 L409.5 412.9 L410.6 413.3 L411.7 413.6 L412.8 414 L413.8 414.3 L414.9 414.7 L416 415.1 L417.1 415.4 L418.2 415.8 L419.3 416.2 L420.4 416.6 L421.4 417 L422.5 417.4 L423.6 417.8 L424.7 418.2 L425.7 418.6 L426.8 419 L427.9 419.5 L428.9 419.9 L430 420.3 L431 420.8 L432.1 421.2 L433.2 421.7 L434.2 422.2 L435.2 422.6 L436.3 423.1 L437.3 423.6 L438.4 424.1 L439.4 424.6 L440.4 425.1 L441.5 425.6 L442.5 426.1 L443.5 426.6 L444.5 427.2 L445.5 427.7 L446.6 428.2 L447.6 428.8 L448.6 429.3 L449.6 429.9 L450.6 430.5 L451.6 431 L452.6 431.6 L453.5 432.2 L454.5 432.8 L455.5 433.4 L456.5 434 L457.5 434.6 L458.4 435.2 L459.4 435.8 L460.4 436.5 L461.3 437.1 L462.3 437.7 L463.2 438.4 L464.2 439 L465.1 439.7 L466.1 440.3 L467 441 L467.9 441.7 L468.9 442.4 L469.8 443.1 L470.7 443.8 L471.6 444.5 L472.5 445.2 L473.4 445.9 L474.3 446.6 L475.2 447.3 L476.1 448.1 L477 448.8 L477.9 449.6 L478.8 450.3 L479.6 451.1 L480.5 451.8 L481.4 452.6 L482.2 453.4 L483.1 454.2 L483.9 454.9 L484.7 455.7 L485.6 456.5 L486.4 457.3 L487.2 458.2 L488 459 L488.8 459.8 L489.6 460.6 L490.4 461.5 L491.2 462.3 L492 463.1 L492.8 464 L493.6 464.8 L494.3 465.7 L495.1 466.6 L495.8 467.5 L496.6 468.3 L497.3 469.2 L498 470.1 L498.8 471 L499.5 471.9 L500.2 472.8 L500.9 473.7 L501.6 474.6 L502.2 475.6 L502.9 476.5 L503.6 477.4 L504.3 478.4 L504.9 479.3 L505.6 480.3 L506.2 481.2 L506.8 482.2 L507.4 483.1 L508.1 484.1 L508.7 485.1 L509.3 486.1 L509.9 487.1 L510.4 488.1 L511 489.1 L511.6 490.1 L512.1 491.1 L512.7 492.1 L513.2 493.1 L513.7 494.1 L514.2 495.2 L514.8 496.2 L515.3 497.2 L515.8 498.3 L516.2 499.3 L516.7 500.4 L517.2 501.4 L517.6 502.5 L518.1 503.6 L518.5 504.7 L518.9 505.7 L519.3 506.8 L519.7 507.9 L520.1 509 L520.5 510.1 L520.9 511.2 L521.3 512.3 L521.6 513.4 L522 514.6" fill="none" stroke="#0000ff" stroke-width="6.3" stroke-linejoin="round"/>
<path d="M152.7 514.3 L152.8 514.1 L152.9 513.9 L153.1 513.7 L153.2 513.6 L153.4 513.4 L153.5 513.2 L153.6 513 L153.8 512.9 L153.9 512.7 L154.1 512.5 L154.2 512.4 L154.3 512.2 L154.5 512 L154.6 511.9 L154.8 511.7 L154.9 511.6 L155.1 511.4 L155.2 511.2 L155.4 511.1 L155.5 510.9 L155.7 510.8 L155.8 510.6 L156 510.5 L156.1 510.3 L156.3 510.2 L156.4 510 L156.6 509.9 L156.7 509.7 L156.9 509.6 L157.1 509.4 L157.2 509.3 L157.4 509.1 L157.5 509 L157.7 508.8 L157.8 508.7 L158 508.6 L158.2 508.4 L158.3 508.3 L158.5 508.2 L158.7 508 L158.8 507.9 L159 507.7 L159.2 507.6 L159.3 507.5 L159.5 507.3 L159.7 507.2 L159.8 507.1 L160 507 L160.2 506.8 L160.3 506.7 L160.5 506.6 L160.7 506.5 L160.9 506.3 L161 506.2 L161.2 506.1 L161.4 506 L161.6 505.8 L161.7 505.7 L161.9 505.6 L162.1 505.5 L162.3 505.4 L162.4 505.3 L162.6 505.2 L162.8 505 L163 504.9 L163.2 504.8 L163.3 504.7 L163.5 504.6 L163.7 504.5 L163.9 504.4 L164.1 504.3 L164.3 504.2 L164.4 504.1 L164.6 504 L164.8 503.9 L165 503.8 L165.2 503.7 L165.4 503.6 L165.6 503.5 L165.8 503.4 L165.9 503.3 L166.1 503.2 L166.3 503.1 L166.5 503 L166.7 502.9 L166.9 502.8 L167.1 502.7 L167.3 502.6 L167.5 502.5 L167.7 502.4 L167.9 502.3 L168.1 502.3 L168.3 502.2 L168.4 502.1 L168.6 502 L168.8 501.9 L169 501.8 L169.2 501.8 L169.4 501.7 L169.6 501.6 L169.8 501.5 L170 501.4 L170.2 501.4 L170.4 501.3 L170.6 501.2 L170.8 501.1 L171 501.1 L171.2 501 L171.4 500.9 L171.6 500.9 L171.8 500.8 L172 500.7 L172.2 500.7 L172.4 500.6 L172.7 500.5 L172.9 500.5 L173.1 500.4 L173.3 500.3 L173.5 500.3 L173.7 500.2 L173.9 500.1 L174.1 500.1 L174.3 500 L174.5 500 L174.7 499.9 L174.9 499.9 L175.1 499.8 L175.3 499.8 L175.6 499.7 L175.8 499.6 L176 499.6 L176.2 499.5 L176.4 499.5 L176.6 499.4 L176.8 499.4 L177 499.4 L177.2 499.3 L177.4 499.3 L177.7 499.2 L177.9 499.2 L178.1 499.1 L178.3 499.1 L178.5 499 L178.7 499 L178.9 499 L179.2 498.9 L179.4 498.9 L179.6 498.9 L179.8 498.8 L180 498.8 L180.2 498.8 L180.4 498.7 L180.7 498.7 L180.9 498.7 L181.1 498.6 L181.3 498.6 L181.5 498.6 L181.7 498.5 L182 498.5 L182.2 498.5 L182.4 498.5 L182.6 498.4 L182.8 498.4 L183 498.4 L183.3 498.4 L183.5 498.4 L183.7 498.3 L183.9 498.3 L184.1 498.3 L184.4 498.3 L184.6 498.3 L184.8 498.2 L185 498.2 L185.2 498.2 L185.5 498.2 L185.7 498.2 L185.9 498.2 L186.1 498.2 L186.3 498.2 L186.6 498.1 L186.8 498.1 L187 498.1 L187.2 498.1 L187.4 498.1 L187.7 498.1 L187.9 498.1 L188.1 498.1 L188.3 498.1 L188.5 498.1 L188.8 498.1 L189 498.1 L189.2 498.1 L189.4 498.1 L189.6 498.1 L189.9 498.1 L190.1 498.1 L190.3 498.1 L190.5 498.1 L190.8 498.1 L191 498.1 L191.2 498.1 L191.4 498.2 L191.6 498.2 L191.9 498.2 L192.1 498.2 L192.3 498.2 L192.5 498.2 L192.7 498.2 L193 498.2 L193.2 498.3 L193.4 498.3 L193.6 498.3 L193.9 498.3 L194.1 498.3 L194.3 498.3 L194.5 498.4 L194.7 498.4 L195 498.4 L195.2 498.4 L195.4 498.4 L195.6 498.5 L195.8 498.5 L196.1 498.5 L196.3 498.5 L196.5 498.6 L196.7 498.6 L197 498.6 L197.2 498.7 L197.4 498.7 L197.6 498.7 L197.8 498.8 L198.1 498.8 L198.3 498.8 L198.5 498.9 L198.7 498.9 L198.9 498.9 L199.2 499 L199.4 499 L199.6 499 L199.8 499.1 L200 499.1 L200.2 499.2 L200.5 499.2 L200.7 499.2 L200.9 499.3 L201.1 499.3 L201.3 499.4 L201.6 499.4 L201.8 499.5 L202 499.5 L202.2 499.5 L202.4 499.6 L202.6 499.6 L202.9 499.7 L203.1 499.7 L203.3 499.8 L203.5 499.8 L203.7 499.9 L203.9 500 L204.2 500 L204.4 500.1 L204.6 500.1 L204.8 500.2 L205 500.2 L205.2 500.3 L205.4 500.3 L205.7 500.4 L205.9 500.5 L206.1 500.5 L206.3 500.6 L206.5 500.6 L206.7 500.7 L206.9 500.8 L207.1 500.8 L207.4 500.9 L207.6 501 L207.8 501 L208 501.1 L208.2 501.2 L208.4 501.2 L208.6 501.3 L208.8 501.4 L209 501.4 L209.2 501.5 L209.5 501.6 L209.7 501.7 L209.9 501.7 L210.1 501.8 L210.3 501.9 L210.5 502 L210.7 502 L210.9 502.1 L211.1 502.2 L211.3 502.3 L211.5 502.3 L211.7 502.4 L211.9 502.5 L212.1 502.6 L212.3 502.7 L212.5 502.7 L212.7 502.8 L212.9 502.9 L213.1 503 L213.3 503.1 L213.5 503.2 L213.7 503.3 L213.9 503.3 L214.1 503.4 L214.3 503.5 L214.5 503.6 L214.7 503.7 L214.9 503.8 L215.1 503.9 L215.3 504 L215.5 504.1 L215.7 504.2 L215.9 504.3 L216.1 504.3 L216.3 504.4 L216.5 504.5 L216.7 504.6 L216.9 504.7 L217.1 504.8 L217.3 504.9 L217.5 505 L217.7 505.1 L217.9 505.2 L218 505.3 L218.2 505.4 L218.4 505.5 L218.6 505.6 L218.8 505.7 L219 505.9 L219.2 506 L219.4 506.1 L219.6 506.2 L219.7 506.3 L219.9 506.4 L220.1 506.5 L220.3 506.6 L220.5 506.7 L220.7 506.8 L220.8 506.9 L221 507 L221.2 507.2 L221.4 507.3 L221.6 507.4 L221.7 507.5 L221.9 507.6 L222.1 507.7 L222.3 507.8 L222.4 508 L222.6 508.1 L222.8 508.2 L223 508.3 L223.2 508.4 L223.3 508.6 L223.5 508.7 L223.7 508.8 L223.8 508.9 L224 509 L224.2 509.2 L224.4 509.3 L224.5 509.4 L224.7 509.5 L224.9 509.7 L225 509.8 L225.2 509.9 L225.4 510.1 L225.5 510.2 L225.7 510.3 L225.9 510.4 L226 510.6 L226.2 510.7 L226.3 510.8 L226.5 511 L226.7 511.1 L226.8 511.2 L227 511.4 L227.1 511.5 L227.3 511.6 L227.4 511.8 L227.6 511.9 L227.8 512 L227.9 512.2 L228.1 512.3 L228.2 512.5 L228.4 512.6 L228.5 512.7 L228.7 512.9 L228.8 513 L229 513.2 L229.1 513.3 L229.3 513.4 L229.4 513.6 L229.6 513.7 L229.7 513.9 L229.8 514 L230 514.2" fill="none" stroke="#00ff00" stroke-width="5.9" stroke-linejoin="round"/>
</g>
<text x="68.1" y="540" text-anchor="middle" font-family="Liberation Sans, Arial, sans-serif" font-weight="bold" font-size="20">0</text>
<text x="57" y="519.4" text-anchor="end" font-family="Liberation Sans, Arial, sans-serif" font-weight="bold" font-size="20">0</text>
<text x="153.7" y="540" text-anchor="middle" font-family="Liberation Sans, Arial, sans-serif" font-weight="bold" font-size="20">2</text>
<text x="57" y="456.3" text-anchor="end" font-family="Liberation Sans, Arial, sans-serif" font-weight="bold" font-size="20">2</text>
<text x="239.3" y="540" text-anchor="middle" font-family="Liberation Sans, Arial, sans-serif" font-weight="bold" font-size="20">4</text>
<text x="57" y="393.2" text-anchor="end" font-family="Liberation Sans, Arial, sans-serif" font-weight="bold" font-size="20">4</text>
<text x="324.9" y="540" text-anchor="middle" font-family="Liberation Sans, Arial, sans-serif" font-weight="bold" font-size="20">6</text>
<text x="57" y="330.1" text-anchor="end" font-family="Liberation Sans, Arial, sans-serif" font-weight="bold" font-size="20">6</text>
<text x="410.5" y="540" text-anchor="middle" font-family="Liberation Sans, Arial, sans-serif" font-weight="bold" font-size="20">8</text>
<text x="57" y="266.9" text-anchor="end" font-family="Liberation Sans, Arial, sans-serif" font-weight="bold" font-size="20">8</text>
<text x="496.1" y="540" text-anchor="middle" font-family="Liberation Sans, Arial, sans-serif" font-weight="bold" font-size="20">10</text>
<text x="57" y="203.8" text-anchor="end" font-family="Liberation Sans, Arial, sans-serif" font-weight="bold" font-size="20">10</text>
<text x="581.7" y="540" text-anchor="middle" font-family="Liberation Sans, Arial, sans-serif" font-weight="bold" font-size="20">12</text>
<text x="57" y="140.7" text-anchor="end" font-family="Liberation Sans, Arial, sans-serif" font-weight="bold" font-size="20">12</text>
<text x="667.3" y="540" text-anchor="middle" font-family="Liberation Sans, Arial, sans-serif" font-weight="bold" font-size="20">14</text>
<text x="57" y="77.6" text-anchor="end" font-family="Liberation Sans, Arial, sans-serif" font-weight="bold" font-size="20">14</text>
<text x="752.9" y="540" text-anchor="middle" font-family="Liberation Sans, Arial, sans-serif" font-weight="bold" font-size="20">16</text>
<text x="57" y="14.5" text-anchor="end" font-family="Liberation Sans, Arial, sans-serif" font-weight="bold" font-size="20">16</text>
<rect x="856.8" y="16.8" width="699.2" height="489.6" fill="none" stroke="#000" stroke-width="3.7"/><path d="M880.1 506.4 v-7.3M880.1 16.8 v7.3M903.4 506.4 v-7.3M903.4 16.8 v7.3M926.7 506.4 v-7.3M926.7 16.8 v7.3M950 506.4 v-7.3M950 16.8 v7.3M973.3 506.4 v-11.4M973.3 16.8 v11.4M996.6 506.4 v-7.3M996.6 16.8 v7.3M1019.9 506.4 v-7.3M1019.9 16.8 v7.3M1043.3 506.4 v-7.3M1043.3 16.8 v7.3M1066.6 506.4 v-7.3M1066.6 16.8 v7.3M1089.9 506.4 v-11.4M1089.9 16.8 v11.4M1113.2 506.4 v-7.3M1113.2 16.8 v7.3M1136.5 506.4 v-7.3M1136.5 16.8 v7.3M1159.8 506.4 v-7.3M1159.8 16.8 v7.3M1183.1 506.4 v-7.3M1183.1 16.8 v7.3M1206.4 506.4 v-11.4M1206.4 16.8 v11.4M1229.7 506.4 v-7.3M1229.7 16.8 v7.3M1253 506.4 v-7.3M1253 16.8 v7.3M1276.3 506.4 v-7.3M1276.3 16.8 v7.3M1299.6 506.4 v-7.3M1299.6 16.8 v7.3M1322.9 506.4 v-11.4M1322.9 16.8 v11.4M1346.2 506.4 v-7.3M1346.2 16.8 v7.3M1369.5 506.4 v-7.3M1369.5 16.8 v7.3M1392.9 506.4 v-7.3M1392.9 16.8 v7.3M1416.2 506.4 v-7.3M1416.2 16.8 v7.3M1439.5 506.4 v-11.4M1439.5 16.8 v11.4M1462.8 506.4 v-7.3M1462.8 16.8 v7.3M1486.1 506.4 v-7.3M1486.1 16.8 v7.3M1509.4 506.4 v-7.3M1509.4 16.8 v7.3M1532.7 506.4 v-7.3M1532.7 16.8 v7.3M856.8 481.9 h7.3M856.8 457.4 h7.3M856.8 433 h7.3M856.8 408.5 h7.3M856.8 384 h11.4M856.8 359.5 h7.3M856.8 335 h7.3M856.8 310.6 h7.3M856.8 286.1 h7.3M856.8 261.6 h11.4M856.8 237.1 h7.3M856.8 212.6 h7.3M856.8 188.2 h7.3M856.8 163.7 h7.3M856.8 139.2 h11.4M856.8 114.7 h7.3M856.8 90.2 h7.3M856.8 65.8 h7.3M856.8 41.3 h7.3M1556 40.7 h-7.3M1556 64.5 h-7.3M1556 88.4 h-7.3M1556 112.3 h-7.3M1556 136.2 h-11.4M1556 160 h-7.3M1556 183.9 h-7.3M1556 207.8 h-7.3M1556 231.6 h-7.3M1556 255.5 h-11.4M1556 279.4 h-7.3M1556 303.2 h-7.3M1556 327.1 h-7.3M1556 351 h-7.3M1556 374.9 h-11.4M1556 398.7 h-7.3M1556 422.6 h-7.3M1556 446.5 h-7.3M1556 470.3 h-7.3M1556 494.2 h-11.4" stroke="#000" stroke-width="3.8" fill="none"/>
<g>
<use href="#msb" x="1544.3" y="301"/><use href="#msb" x="1532.7" y="300.4"/><use href="#msb" x="1521" y="299.9"/><use href="#msb" x="1509.4" y="299.3"/><use href="#msb" x="1497.7" y="298.7"/><use href="#msb" x="1486.1" y="298"/><use href="#msb" x="1474.4" y="297.2"/><use href="#msb" x="1462.8" y="296.4"/><use href="#msb" x="1451.1" y="295.4"/><use href="#msb" x="1439.5" y="294.3"/><use href="#msb" x="1427.8" y="293"/><use href="#msb" x="1416.2" y="291.5"/><use href="#msb" x="1404.5" y="290"/><use href="#msb" x="1392.9" y="288.3"/><use href="#msb" x="1381.2" y="286.1"/><use href="#msb" x="1369.5" y="283.4"/><use href="#msb" x="1357.9" y="280.1"/><use href="#msb" x="1346.2" y="277.1"/><use href="#msb" x="1334.6" y="274.3"/><use href="#msb" x="1322.9" y="271.7"/><use href="#msb" x="1311.3" y="268.7"/><use href="#msb" x="1299.6" y="265.8"/><use href="#msb" x="1288" y="263.1"/><use href="#msb" x="1276.3" y="260.6"/><use href="#msb" x="1264.7" y="258.7"/><use href="#msb" x="1253" y="257.1"/><use href="#msb" x="1241.4" y="255.7"/><use href="#msb" x="1229.7" y="254.5"/><use href="#msb" x="1218.1" y="253.4"/><use href="#msb" x="1206.4" y="252.3"/><use href="#msb" x="1194.7" y="251.4"/><use href="#msb" x="1183.1" y="247.1"/><use href="#msb" x="1171.4" y="244.9"/><use href="#msb" x="1159.8" y="244.4"/><use href="#msb" x="1148.1" y="244.1"/><use href="#msb" x="1136.5" y="243.8"/><use href="#msb" x="1124.8" y="243.5"/><use href="#msb" x="1113.2" y="243.2"/><use href="#msb" x="1101.5" y="242.9"/><use href="#msb" x="1089.9" y="242.7"/><use href="#msb" x="1078.2" y="242.5"/><use href="#msb" x="1066.6" y="242.4"/><use href="#msb" x="1054.9" y="242.3"/><use href="#msb" x="1043.3" y="242.2"/><use href="#msb" x="1031.6" y="242.2"/><use href="#msb" x="1019.9" y="242.2"/><use href="#msb" x="1008.3" y="242.2"/><use href="#msb" x="996.6" y="242.2"/><use href="#msb" x="985" y="242.2"/><use href="#msb" x="973.3" y="242.2"/><use href="#msb" x="961.7" y="242.2"/><use href="#msb" x="950" y="242.2"/><use href="#msb" x="938.4" y="242.2"/><use href="#msb" x="926.7" y="242.2"/><use href="#msb" x="915.1" y="242.2"/><use href="#msb" x="903.4" y="242.1"/><use href="#msb" x="891.8" y="242"/><use href="#msb" x="880.1" y="241.9"/><use href="#msb" x="868.5" y="241.8"/><use href="#msb" x="856.8" y="241.6"/>
<path d="M856.7 242.4 L859 242.4 L861.4 242.5 L863.7 242.5 L866 242.5 L868.4 242.6 L870.7 242.6 L873 242.6 L875.4 242.7 L877.7 242.7 L880.1 242.7 L882.4 242.7 L884.7 242.8 L887.1 242.8 L889.4 242.8 L891.7 242.8 L894.1 242.9 L896.4 242.9 L898.7 242.9 L901.1 242.9 L903.4 242.9 L905.7 242.9 L908.1 242.9 L910.4 243 L912.8 243 L915.1 243 L917.4 243 L919.8 243 L922.1 243 L924.4 243 L926.8 243 L929.1 243 L931.4 243 L933.8 243 L936.1 243 L938.4 243 L940.8 243 L943.1 243 L945.4 243 L947.8 243 L950.1 243 L952.5 243 L954.8 243 L957.1 243 L959.5 243 L961.8 243 L964.1 243 L966.5 243 L968.8 243 L971.1 243 L973.5 243 L975.8 243 L978.1 243 L980.5 243 L982.8 243 L985.1 243 L987.5 243 L989.8 243 L992.2 243 L994.5 243 L996.8 243 L999.2 243 L1001.5 243 L1003.8 243 L1006.2 243 L1008.5 243 L1010.8 243 L1013.2 243 L1015.5 243 L1017.8 243 L1020.2 243 L1022.5 243 L1024.9 243 L1027.2 243 L1029.5 243 L1031.9 243 L1034.2 243 L1036.5 243 L1038.9 243 L1041.2 243 L1043.5 243 L1045.9 243 L1048.2 243 L1050.5 243 L1052.9 243.1 L1055.2 243.1 L1057.5 243.1 L1059.9 243.1 L1062.2 243.1 L1064.6 243.1 L1066.9 243.2 L1069.2 243.2 L1071.6 243.2 L1073.9 243.2 L1076.2 243.3 L1078.6 243.3 L1080.9 243.3 L1083.2 243.4 L1085.6 243.4 L1087.9 243.5 L1090.2 243.5 L1092.6 243.6 L1094.9 243.6 L1097.3 243.6 L1099.6 243.7 L1101.9 243.8 L1104.3 243.8 L1106.6 243.9 L1108.9 243.9 L1111.3 244 L1113.6 244 L1115.9 244.1 L1118.3 244.1 L1120.6 244.2 L1122.9 244.3 L1125.3 244.3 L1127.6 244.4 L1129.9 244.4 L1132.3 244.5 L1134.6 244.5 L1137 244.6 L1139.3 244.7 L1141.6 244.7 L1144 244.8 L1146.3 244.8 L1148.6 244.9 L1151 245 L1153.3 245 L1155.6 245.1 L1158 245.2 L1160.3 245.2 L1162.6 245.3 L1165 245.4 L1167.3 245.5 L1169.7 245.6 L1172 245.7 L1174.3 245.8 L1176.7 245.9 L1179 246 L1181.3 246.1 L1183.7 246.2 L1186 246.4 L1188.3 246.5 L1190.7 246.7 L1193 246.9 L1195.3 247 L1197.7 247.2 L1200 247.4 L1202.3 247.6 L1204.7 247.8 L1207 248 L1209.4 248.2 L1211.7 248.4 L1214 248.6 L1216.4 248.8 L1218.7 249.1 L1221 249.3 L1223.4 249.5 L1225.7 249.7 L1228 249.9 L1230.4 250.2 L1232.7 250.4 L1235 250.6 L1237.4 250.9 L1239.7 251.1 L1242 251.4 L1244.4 251.7 L1246.7 251.9 L1249.1 252.2 L1251.4 252.5 L1253.7 252.8 L1256.1 253.1 L1258.4 253.4 L1260.7 253.7 L1263.1 254.1 L1265.4 254.4 L1267.7 254.8 L1270.1 255.2 L1272.4 255.6 L1274.7 256 L1277.1 256.4 L1279.4 256.8 L1281.8 257.3 L1284.1 257.8 L1286.4 258.3 L1288.8 258.8 L1291.1 259.4 L1293.4 259.9 L1295.8 260.5 L1298.1 261.1 L1300.4 261.6 L1302.8 262.2 L1305.1 262.8 L1307.4 263.4 L1309.8 264 L1312.1 264.5 L1314.4 265.1 L1316.8 265.7 L1319.1 266.3 L1321.5 266.9 L1323.8 267.5 L1326.1 268.1 L1328.5 268.7 L1330.8 269.3 L1333.1 269.9 L1335.5 270.5 L1337.8 271.2 L1340.1 271.8 L1342.5 272.5 L1344.8 273.1 L1347.1 273.8 L1349.5 274.5 L1351.8 275.2 L1354.2 275.9 L1356.5 276.6 L1358.8 277.3 L1361.2 278.1 L1363.5 278.8 L1365.8 279.6 L1368.2 280.3 L1370.5 281 L1372.8 281.7 L1375.2 282.4 L1377.5 283 L1379.8 283.6 L1382.2 284.2 L1384.5 284.7 L1386.8 285.2 L1389.2 285.7 L1391.5 286.2 L1393.9 286.7 L1396.2 287.2 L1398.5 287.6 L1400.9 288.1 L1403.2 288.5 L1405.5 288.9 L1407.9 289.3 L1410.2 289.7 L1412.5 290.1 L1414.9 290.4 L1417.2 290.8 L1419.5 291.2 L1421.9 291.5 L1424.2 291.8 L1426.6 292.2 L1428.9 292.5 L1431.2 292.8 L1433.6 293.1 L1435.9 293.4 L1438.2 293.7 L1440.6 293.9 L1442.9 294.2 L1445.2 294.5 L1447.6 294.7 L1449.9 295 L1452.2 295.2 L1454.6 295.5 L1456.9 295.7 L1459.2 295.9 L1461.6 296.1 L1463.9 296.4 L1466.3 296.6 L1468.6 296.8 L1470.9 297 L1473.3 297.2 L1475.6 297.4 L1477.9 297.6 L1480.3 297.8 L1482.6 298 L1484.9 298.1 L1487.3 298.3 L1489.6 298.5 L1491.9 298.7 L1494.3 298.8 L1496.6 299 L1498.9 299.2 L1501.3 299.3 L1503.6 299.5 L1506 299.7 L1508.3 299.8 L1510.6 300 L1513 300.2 L1515.3 300.3 L1517.6 300.5 L1520 300.6 L1522.3 300.8 L1524.6 300.9 L1527 301.1 L1529.3 301.2 L1531.6 301.4 L1534 301.5 L1536.3 301.7 L1538.7 301.8 L1541 301.9 L1543.3 302.1 L1545.7 302.2 L1548 302.4 L1550.3 302.5 L1552.7 302.7 L1555 302.8" fill="none" stroke="#00ff00" stroke-width="5.3" stroke-linejoin="round"/>
<use href="#mcb" x="1544.3" y="462.7"/><use href="#mcb" x="1532.7" y="461.3"/><use href="#mcb" x="1521" y="458.9"/><use href="#mcb" x="1509.4" y="454.9"/><use href="#mcb" x="1497.7" y="449.5"/><use href="#mcb" x="1486.1" y="442.4"/><use href="#mcb" x="1474.4" y="434.2"/><use href="#mcb" x="1462.8" y="425"/><use href="#mcb" x="1451.1" y="415"/><use href="#mcb" x="1439.5" y="404.5"/><use href="#mcb" x="1427.8" y="393.5"/><use href="#mcb" x="1416.2" y="383.2"/><use href="#mcb" x="1404.5" y="374.6"/><use href="#mcb" x="1392.9" y="368.5"/><use href="#mcb" x="1381.2" y="362.8"/><use href="#mcb" x="1369.5" y="358.5"/><use href="#mcb" x="1357.9" y="364.1"/><use href="#mcb" x="1346.2" y="367.4"/><use href="#mcb" x="1334.6" y="374.2"/><use href="#mcb" x="1322.9" y="385.7"/><use href="#mcb" x="1311.3" y="396.7"/><use href="#mcb" x="1299.6" y="405.2"/><use href="#mcb" x="1288" y="414.6"/><use href="#mcb" x="1276.3" y="424.6"/><use href="#mcb" x="1264.7" y="431.6"/><use href="#mcb" x="1253" y="436.9"/><use href="#mcb" x="1241.4" y="442.2"/><use href="#mcb" x="1229.7" y="447.2"/><use href="#mcb" x="1218.1" y="450.4"/><use href="#mcb" x="1206.4" y="451.9"/><use href="#mcb" x="1194.7" y="457"/><use href="#mcb" x="1136.5" y="469.3"/><use href="#mcb" x="1113.2" y="475.5"/><use href="#mcb" x="1089.9" y="481.4"/><use href="#mcb" x="1078.2" y="483.9"/><use href="#mcb" x="1054.9" y="487.4"/><use href="#mcb" x="1043.3" y="487.7"/><use href="#mcb" x="996.6" y="486.2"/><use href="#mcb" x="985" y="486.2"/><use href="#mcb" x="973.3" y="486.2"/><use href="#mcb" x="961.7" y="486.2"/><use href="#mcb" x="938.4" y="486.5"/><use href="#mcb" x="926.7" y="486.6"/><use href="#mcb" x="915.1" y="486.7"/><use href="#mcb" x="903.4" y="486.7"/><use href="#mcb" x="891.8" y="486.7"/><use href="#mcb" x="880.1" y="486.7"/><use href="#mcb" x="868.5" y="486.5"/><use href="#mcb" x="856.8" y="486.2"/>
<path d="M856.7 484.2 L859 484.3 L861.4 484.3 L863.7 484.4 L866 484.4 L868.4 484.4 L870.7 484.5 L873 484.5 L875.4 484.5 L877.7 484.6 L880.1 484.6 L882.4 484.6 L884.7 484.6 L887.1 484.6 L889.4 484.6 L891.7 484.6 L894.1 484.6 L896.4 484.6 L898.7 484.6 L901.1 484.6 L903.4 484.6 L905.7 484.5 L908.1 484.5 L910.4 484.5 L912.8 484.5 L915.1 484.5 L917.4 484.4 L919.8 484.4 L922.1 484.4 L924.4 484.4 L926.8 484.3 L929.1 484.3 L931.4 484.3 L933.8 484.2 L936.1 484.2 L938.4 484.2 L940.8 484.1 L943.1 484.1 L945.4 484.1 L947.8 484 L950.1 484 L952.5 484 L954.8 483.9 L957.1 483.9 L959.5 483.9 L961.8 483.9 L964.1 483.8 L966.5 483.8 L968.8 483.8 L971.1 483.8 L973.5 483.8 L975.8 483.7 L978.1 483.7 L980.5 483.7 L982.8 483.7 L985.1 483.7 L987.5 483.7 L989.8 483.7 L992.2 483.7 L994.5 483.7 L996.8 483.8 L999.2 483.8 L1001.5 483.8 L1003.8 483.8 L1006.2 483.9 L1008.5 483.9 L1010.8 483.9 L1013.2 484 L1015.5 484 L1017.8 484.1 L1020.2 484.1 L1022.5 484.2 L1024.9 484.3 L1027.2 484.4 L1029.5 484.5 L1031.9 484.6 L1034.2 484.7 L1036.5 484.8 L1038.9 484.9 L1041.2 485 L1043.5 485 L1045.9 485 L1048.2 485 L1050.5 485 L1052.9 484.9 L1055.2 484.7 L1057.5 484.4 L1059.9 484.1 L1062.2 483.8 L1064.6 483.5 L1066.9 483.1 L1069.2 482.8 L1071.6 482.4 L1073.9 482 L1076.2 481.5 L1078.6 481.1 L1080.9 480.6 L1083.2 480.1 L1085.6 479.6 L1087.9 479 L1090.2 478.4 L1092.6 477.8 L1094.9 477.2 L1097.3 476.6 L1099.6 476 L1101.9 475.4 L1104.3 474.8 L1106.6 474.2 L1108.9 473.6 L1111.3 473 L1113.6 472.4 L1115.9 471.8 L1118.3 471.2 L1120.6 470.6 L1122.9 470 L1125.3 469.4 L1127.6 468.7 L1129.9 468.1 L1132.3 467.4 L1134.6 466.8 L1137 466.2 L1139.3 465.6 L1141.6 465.1 L1144 464.6 L1146.3 464.2 L1148.6 463.8 L1151 463.5 L1153.3 463.3 L1155.6 463.1 L1158 463 L1160.3 463 L1162.6 463 L1165 463 L1167.3 463.1 L1169.7 463.1 L1172 463.1 L1174.3 463 L1176.7 462.9 L1179 462.7 L1181.3 462.4 L1183.7 462 L1186 461.4 L1188.3 460.7 L1190.7 459.7 L1193 458.2 L1195.3 456.5 L1197.7 454.9 L1200 453.7 L1202.3 452.9 L1204.7 452.3 L1207 451.8 L1209.4 451.5 L1211.7 451.2 L1214 450.9 L1216.4 450.6 L1218.7 450.3 L1221 449.9 L1223.4 449.3 L1225.7 448.6 L1228 447.8 L1230.4 447 L1232.7 446 L1235 445 L1237.4 444 L1239.7 442.9 L1242 441.8 L1244.4 440.7 L1246.7 439.7 L1249.1 438.6 L1251.4 437.6 L1253.7 436.6 L1256.1 435.6 L1258.4 434.6 L1260.7 433.5 L1263.1 432.4 L1265.4 431.3 L1267.7 430 L1270.1 428.7 L1272.4 427.3 L1274.7 425.8 L1277.1 424.1 L1279.4 422.2 L1281.8 420.2 L1284.1 418.1 L1286.4 416 L1288.8 413.9 L1291.1 411.8 L1293.4 409.9 L1295.8 408 L1298.1 406.3 L1300.4 404.6 L1302.8 403 L1305.1 401.3 L1307.4 399.6 L1309.8 397.9 L1312.1 396.1 L1314.4 394.1 L1316.8 392 L1319.1 389.7 L1321.5 387.3 L1323.8 384.8 L1326.1 382.3 L1328.5 379.8 L1330.8 377.5 L1333.1 375.4 L1335.5 373.5 L1337.8 371.8 L1340.1 370.2 L1342.5 368.9 L1344.8 367.9 L1347.1 367.1 L1349.5 366.4 L1351.8 365.9 L1354.2 365.3 L1356.5 364.6 L1358.8 363.7 L1361.2 362.5 L1363.5 361 L1365.8 359.6 L1368.2 358.6 L1370.5 358.4 L1372.8 358.8 L1375.2 359.6 L1377.5 360.8 L1379.8 362.1 L1382.2 363.4 L1384.5 364.6 L1386.8 365.7 L1389.2 366.8 L1391.5 367.9 L1393.9 369 L1396.2 370.1 L1398.5 371.2 L1400.9 372.5 L1403.2 373.8 L1405.5 375.2 L1407.9 376.8 L1410.2 378.5 L1412.5 380.3 L1414.9 382.1 L1417.2 384.1 L1419.5 386.1 L1421.9 388.1 L1424.2 390.2 L1426.6 392.3 L1428.9 394.5 L1431.2 396.7 L1433.6 398.9 L1435.9 401.1 L1438.2 403.3 L1440.6 405.5 L1442.9 407.6 L1445.2 409.7 L1447.6 411.9 L1449.9 413.9 L1452.2 416 L1454.6 418.1 L1456.9 420.1 L1459.2 422.1 L1461.6 424 L1463.9 425.9 L1466.3 427.8 L1468.6 429.7 L1470.9 431.5 L1473.3 433.3 L1475.6 435.1 L1477.9 436.8 L1480.3 438.5 L1482.6 440.1 L1484.9 441.7 L1487.3 443.2 L1489.6 444.7 L1491.9 446.1 L1494.3 447.5 L1496.6 448.8 L1498.9 450.1 L1501.3 451.3 L1503.6 452.5 L1506 453.5 L1508.3 454.5 L1510.6 455.4 L1513 456.3 L1515.3 457.1 L1517.6 457.9 L1520 458.6 L1522.3 459.2 L1524.6 459.8 L1527 460.3 L1529.3 460.7 L1531.6 461.1 L1534 461.5 L1536.3 461.8 L1538.7 462.1 L1541 462.4 L1543.3 462.6 L1545.7 462.8 L1548 463 L1550.3 463.1 L1552.7 463.2 L1555 463.2" fill="none" stroke="#00ff00" stroke-width="5.3" stroke-linejoin="round"/>
<use href="#mxs" x="1544.3" y="475.8"/><use href="#mxs" x="1532.7" y="475.5"/><use href="#mxs" x="1521" y="475.1"/><use href="#mxs" x="1509.4" y="474.6"/><use href="#mxs" x="1497.7" y="474"/><use href="#mxs" x="1486.1" y="473.2"/><use href="#mxs" x="1474.4" y="472.2"/><use href="#mxs" x="1462.8" y="471"/><use href="#mxs" x="1451.1" y="469.4"/><use href="#mxs" x="1439.5" y="467.5"/><use href="#mxs" x="1427.8" y="465.1"/><use href="#mxs" x="1416.2" y="461.9"/><use href="#mxs" x="1404.5" y="457.8"/><use href="#mxs" x="1392.9" y="452.9"/><use href="#mxs" x="1381.2" y="446.7"/><use href="#mxs" x="1369.5" y="438.8"/><use href="#mxs" x="1357.9" y="429.3"/><use href="#mxs" x="1346.2" y="418.8"/><use href="#mxs" x="1334.6" y="407"/><use href="#mxs" x="1322.9" y="393.7"/><use href="#mxs" x="1311.3" y="378.5"/><use href="#mxs" x="1299.6" y="364.1"/><use href="#mxs" x="1288" y="351.7"/><use href="#mxs" x="1276.3" y="339.6"/><use href="#mxs" x="1264.7" y="326.3"/><use href="#mxs" x="1253" y="313"/><use href="#mxs" x="1241.4" y="300.2"/><use href="#mxs" x="1229.7" y="288.3"/><use href="#mxs" x="1218.1" y="277.2"/><use href="#mxs" x="1206.4" y="267"/><use href="#mxs" x="1194.7" y="257.1"/><use href="#mxs" x="1183.1" y="248"/><use href="#mxs" x="1171.4" y="240.1"/><use href="#mxs" x="1159.8" y="233.8"/><use href="#mxs" x="1148.1" y="228.2"/><use href="#mxs" x="1136.5" y="224.9"/><use href="#mxs" x="1124.8" y="222.2"/><use href="#mxs" x="1113.2" y="220"/><use href="#mxs" x="1101.5" y="218.1"/><use href="#mxs" x="1089.9" y="216.4"/><use href="#mxs" x="1078.2" y="214.9"/><use href="#mxs" x="1066.6" y="215.6"/><use href="#mxs" x="1054.9" y="216.6"/><use href="#mxs" x="1043.3" y="215.8"/><use href="#mxs" x="1031.6" y="215.2"/><use href="#mxs" x="1019.9" y="214.6"/><use href="#mxs" x="1008.3" y="214.2"/><use href="#mxs" x="996.6" y="214"/><use href="#mxs" x="985" y="213.8"/><use href="#mxs" x="973.3" y="213.8"/><use href="#mxs" x="961.7" y="213.7"/><use href="#mxs" x="950" y="213.7"/><use href="#mxs" x="938.4" y="214.6"/><use href="#mxs" x="926.7" y="216.3"/><use href="#mxs" x="915.1" y="217.1"/><use href="#mxs" x="903.4" y="217.1"/><use href="#mxs" x="891.8" y="217.1"/><use href="#mxs" x="880.1" y="217.1"/><use href="#mxs" x="868.5" y="217"/><use href="#mxs" x="856.8" y="216.8"/>
<path d="M856.7 214.1 L859 214.1 L861.4 214.2 L863.7 214.2 L866 214.2 L868.4 214.3 L870.7 214.3 L873 214.3 L875.4 214.3 L877.7 214.3 L880.1 214.4 L882.4 214.4 L884.7 214.4 L887.1 214.4 L889.4 214.4 L891.7 214.4 L894.1 214.4 L896.4 214.4 L898.7 214.4 L901.1 214.4 L903.4 214.4 L905.7 214.4 L908.1 214.4 L910.4 214.4 L912.8 214.4 L915.1 214.4 L917.4 214.4 L919.8 214.4 L922.1 214.4 L924.4 214.4 L926.8 214.4 L929.1 214.4 L931.4 214.4 L933.8 214.4 L936.1 214.4 L938.4 214.4 L940.8 214.4 L943.1 214.4 L945.4 214.4 L947.8 214.3 L950.1 214.3 L952.5 214.3 L954.8 214.3 L957.1 214.3 L959.5 214.3 L961.8 214.3 L964.1 214.3 L966.5 214.3 L968.8 214.3 L971.1 214.3 L973.5 214.4 L975.8 214.4 L978.1 214.4 L980.5 214.4 L982.8 214.4 L985.1 214.4 L987.5 214.4 L989.8 214.5 L992.2 214.5 L994.5 214.5 L996.8 214.6 L999.2 214.6 L1001.5 214.7 L1003.8 214.7 L1006.2 214.8 L1008.5 214.8 L1010.8 214.9 L1013.2 215 L1015.5 215.1 L1017.8 215.2 L1020.2 215.2 L1022.5 215.3 L1024.9 215.4 L1027.2 215.6 L1029.5 215.7 L1031.9 215.8 L1034.2 215.9 L1036.5 216 L1038.9 216.2 L1041.2 216.3 L1043.5 216.5 L1045.9 216.6 L1048.2 216.8 L1050.5 216.9 L1052.9 217.1 L1055.2 217.2 L1057.5 217.4 L1059.9 217.6 L1062.2 217.8 L1064.6 218 L1066.9 218.2 L1069.2 218.4 L1071.6 218.7 L1073.9 218.9 L1076.2 219.2 L1078.6 219.5 L1080.9 219.7 L1083.2 220 L1085.6 220.3 L1087.9 220.6 L1090.2 221 L1092.6 221.3 L1094.9 221.6 L1097.3 222 L1099.6 222.3 L1101.9 222.6 L1104.3 223 L1106.6 223.4 L1108.9 223.8 L1111.3 224.1 L1113.6 224.6 L1115.9 225 L1118.3 225.4 L1120.6 225.9 L1122.9 226.3 L1125.3 226.8 L1127.6 227.3 L1129.9 227.9 L1132.3 228.4 L1134.6 229 L1137 229.5 L1139.3 230.1 L1141.6 230.8 L1144 231.4 L1146.3 232.1 L1148.6 232.9 L1151 233.6 L1153.3 234.4 L1155.6 235.3 L1158 236.1 L1160.3 237 L1162.6 237.9 L1165 238.9 L1167.3 239.8 L1169.7 240.8 L1172 241.9 L1174.3 243 L1176.7 244.1 L1179 245.4 L1181.3 246.8 L1183.7 248.3 L1186 250 L1188.3 251.8 L1190.7 253.7 L1193 255.6 L1195.3 257.6 L1197.7 259.6 L1200 261.6 L1202.3 263.6 L1204.7 265.5 L1207 267.5 L1209.4 269.5 L1211.7 271.6 L1214 273.6 L1216.4 275.7 L1218.7 277.8 L1221 280 L1223.4 282.1 L1225.7 284.4 L1228 286.6 L1230.4 288.9 L1232.7 291.2 L1235 293.6 L1237.4 296 L1239.7 298.4 L1242 300.9 L1244.4 303.4 L1246.7 305.9 L1249.1 308.5 L1251.4 311.1 L1253.7 313.8 L1256.1 316.4 L1258.4 319.1 L1260.7 321.8 L1263.1 324.5 L1265.4 327.2 L1267.7 329.9 L1270.1 332.6 L1272.4 335.3 L1274.7 337.9 L1277.1 340.5 L1279.4 343 L1281.8 345.4 L1284.1 347.8 L1286.4 350.2 L1288.8 352.5 L1291.1 354.9 L1293.4 357.4 L1295.8 359.8 L1298.1 362.4 L1300.4 365 L1302.8 367.7 L1305.1 370.5 L1307.4 373.5 L1309.8 376.5 L1312.1 379.6 L1314.4 382.7 L1316.8 385.7 L1319.1 388.8 L1321.5 391.8 L1323.8 394.7 L1326.1 397.6 L1328.5 400.3 L1330.8 402.9 L1333.1 405.5 L1335.5 408 L1337.8 410.4 L1340.1 412.8 L1342.5 415.1 L1344.8 417.4 L1347.1 419.6 L1349.5 421.8 L1351.8 423.9 L1354.2 426 L1356.5 428.1 L1358.8 430.1 L1361.2 432.1 L1363.5 434.1 L1365.8 436 L1368.2 437.8 L1370.5 439.6 L1372.8 441.3 L1375.2 442.9 L1377.5 444.4 L1379.8 445.9 L1382.2 447.2 L1384.5 448.6 L1386.8 449.9 L1389.2 451.1 L1391.5 452.2 L1393.9 453.4 L1396.2 454.4 L1398.5 455.4 L1400.9 456.4 L1403.2 457.3 L1405.5 458.2 L1407.9 459.1 L1410.2 459.9 L1412.5 460.7 L1414.9 461.5 L1417.2 462.2 L1419.5 462.9 L1421.9 463.5 L1424.2 464.2 L1426.6 464.8 L1428.9 465.4 L1431.2 465.9 L1433.6 466.4 L1435.9 466.9 L1438.2 467.3 L1440.6 467.7 L1442.9 468.2 L1445.2 468.5 L1447.6 468.9 L1449.9 469.3 L1452.2 469.6 L1454.6 469.9 L1456.9 470.2 L1459.2 470.5 L1461.6 470.8 L1463.9 471.1 L1466.3 471.4 L1468.6 471.6 L1470.9 471.8 L1473.3 472.1 L1475.6 472.3 L1477.9 472.5 L1480.3 472.7 L1482.6 472.9 L1484.9 473.1 L1487.3 473.3 L1489.6 473.4 L1491.9 473.6 L1494.3 473.8 L1496.6 473.9 L1498.9 474 L1501.3 474.2 L1503.6 474.3 L1506 474.4 L1508.3 474.5 L1510.6 474.6 L1513 474.7 L1515.3 474.8 L1517.6 474.9 L1520 475 L1522.3 475.1 L1524.6 475.2 L1527 475.3 L1529.3 475.3 L1531.6 475.4 L1534 475.5 L1536.3 475.6 L1538.7 475.6 L1541 475.7 L1543.3 475.7 L1545.7 475.8 L1548 475.9 L1550.3 475.9 L1552.7 476 L1555 476" fill="none" stroke="#ff00ff" stroke-width="5.3" stroke-linejoin="round"/>
<use href="#mt" x="1544.3" y="498.6"/><use href="#mt" x="1533" y="494.7"/><use href="#mt" x="1521.7" y="490.5"/><use href="#mt" x="1510.4" y="485.6"/><use href="#mt" x="1499.1" y="479.8"/><use href="#mt" x="1487.7" y="473.2"/><use href="#mt" x="1476.4" y="466.4"/><use href="#mt" x="1465.4" y="461.2"/><use href="#mt" x="1454.5" y="455.4"/><use href="#mt" x="1443.5" y="449"/><use href="#mt" x="1431.8" y="442"/><use href="#mt" x="1420.2" y="434.1"/><use href="#mt" x="1408.5" y="425.4"/><use href="#mt" x="1396.9" y="416.1"/><use href="#mt" x="1385.2" y="406.2"/><use href="#mt" x="1373.5" y="396"/><use href="#mt" x="1361.9" y="385.4"/><use href="#mt" x="1350.2" y="375.2"/><use href="#mt" x="1338.6" y="365.4"/><use href="#mt" x="1325.9" y="357.3"/><use href="#mt" x="1313.3" y="350.8"/><use href="#mt" x="1300.6" y="346.9"/><use href="#mt" x="1288" y="345.6"/><use href="#mt" x="1276.1" y="345.8"/><use href="#mt" x="1264.2" y="347.8"/><use href="#mt" x="1252.3" y="351.7"/><use href="#mt" x="1240.4" y="357.9"/><use href="#mt" x="1228.8" y="365.4"/><use href="#mt" x="1217.2" y="374.2"/><use href="#mt" x="1205.7" y="383.6"/><use href="#mt" x="1194.1" y="393.4"/><use href="#mt" x="1182.5" y="403.6"/><use href="#mt" x="1171" y="414.3"/><use href="#mt" x="1159.4" y="425"/><use href="#mt" x="1147.9" y="434.7"/><use href="#mt" x="1136.3" y="443.3"/><use href="#mt" x="1124.7" y="451.1"/><use href="#mt" x="1113.2" y="458.3"/><use href="#mt" x="1101.5" y="464.7"/><use href="#mt" x="1089.9" y="470.5"/><use href="#mt" x="1078.2" y="475.8"/><use href="#mt" x="1066.6" y="479.9"/><use href="#mt" x="1054.9" y="482.4"/><use href="#mt" x="1043.3" y="484.2"/><use href="#mt" x="1031.6" y="486.5"/><use href="#mt" x="1019.9" y="489.9"/><use href="#mt" x="1008.3" y="493.2"/><use href="#mt" x="996.6" y="495.8"/><use href="#mt" x="985" y="497.8"/><use href="#mt" x="973.3" y="499.2"/><use href="#mt" x="961.7" y="500.2"/><use href="#mt" x="950" y="501"/><use href="#mt" x="938.4" y="501.6"/><use href="#mt" x="926.7" y="501.9"/><use href="#mt" x="915.1" y="502.1"/><use href="#mt" x="903.4" y="502.3"/><use href="#mt" x="891.8" y="502.5"/><use href="#mt" x="880.1" y="502.7"/><use href="#mt" x="868.5" y="502.9"/><use href="#mt" x="856.8" y="503.1"/>
<path d="M856.7 501.1 L859 501 L861.4 501 L863.7 500.9 L866 500.9 L868.4 500.9 L870.7 500.8 L873 500.8 L875.4 500.7 L877.7 500.7 L880.1 500.7 L882.4 500.6 L884.7 500.6 L887.1 500.6 L889.4 500.5 L891.7 500.5 L894.1 500.5 L896.4 500.4 L898.7 500.4 L901.1 500.4 L903.4 500.3 L905.7 500.3 L908.1 500.3 L910.4 500.2 L912.8 500.2 L915.1 500.1 L917.4 500.1 L919.8 500.1 L922.1 500 L924.4 500 L926.8 499.9 L929.1 499.8 L931.4 499.8 L933.8 499.7 L936.1 499.6 L938.4 499.5 L940.8 499.5 L943.1 499.4 L945.4 499.2 L947.8 499.1 L950.1 499 L952.5 498.9 L954.8 498.7 L957.1 498.6 L959.5 498.4 L961.8 498.2 L964.1 498 L966.5 497.8 L968.8 497.6 L971.1 497.4 L973.5 497.2 L975.8 496.9 L978.1 496.7 L980.5 496.4 L982.8 496.1 L985.1 495.8 L987.5 495.4 L989.8 495.1 L992.2 494.6 L994.5 494.2 L996.8 493.7 L999.2 493.3 L1001.5 492.8 L1003.8 492.2 L1006.2 491.7 L1008.5 491.1 L1010.8 490.5 L1013.2 489.9 L1015.5 489.2 L1017.8 488.5 L1020.2 487.8 L1022.5 487.1 L1024.9 486.4 L1027.2 485.7 L1029.5 485 L1031.9 484.4 L1034.2 483.9 L1036.5 483.4 L1038.9 483 L1041.2 482.6 L1043.5 482.2 L1045.9 481.8 L1048.2 481.5 L1050.5 481.1 L1052.9 480.7 L1055.2 480.4 L1057.5 479.9 L1059.9 479.5 L1062.2 479 L1064.6 478.4 L1066.9 477.8 L1069.2 477.1 L1071.6 476.3 L1073.9 475.5 L1076.2 474.6 L1078.6 473.6 L1080.9 472.6 L1083.2 471.6 L1085.6 470.5 L1087.9 469.4 L1090.2 468.3 L1092.6 467.2 L1094.9 466.1 L1097.3 464.9 L1099.6 463.7 L1101.9 462.5 L1104.3 461.3 L1106.6 460 L1108.9 458.7 L1111.3 457.4 L1113.6 456 L1115.9 454.6 L1118.3 453.2 L1120.6 451.8 L1122.9 450.4 L1125.3 448.9 L1127.6 447.4 L1129.9 445.9 L1132.3 444.4 L1134.6 442.8 L1137 441.2 L1139.3 439.5 L1141.6 437.8 L1144 436.1 L1146.3 434.4 L1148.6 432.6 L1151 430.7 L1153.3 428.9 L1155.6 426.9 L1158 425 L1160.3 422.9 L1162.6 420.8 L1165 418.7 L1167.3 416.6 L1169.7 414.4 L1172 412.2 L1174.3 410.1 L1176.7 407.9 L1179 405.8 L1181.3 403.7 L1183.7 401.6 L1186 399.6 L1188.3 397.5 L1190.7 395.5 L1193 393.5 L1195.3 391.5 L1197.7 389.5 L1200 387.6 L1202.3 385.6 L1204.7 383.7 L1207 381.8 L1209.4 379.9 L1211.7 378.1 L1214 376.2 L1216.4 374.3 L1218.7 372.5 L1221 370.7 L1223.4 368.9 L1225.7 367.2 L1228 365.5 L1230.4 363.8 L1232.7 362.3 L1235 360.8 L1237.4 359.3 L1239.7 357.9 L1242 356.5 L1244.4 355.1 L1246.7 353.8 L1249.1 352.6 L1251.4 351.5 L1253.7 350.4 L1256.1 349.4 L1258.4 348.6 L1260.7 347.8 L1263.1 347.2 L1265.4 346.6 L1267.7 346.1 L1270.1 345.7 L1272.4 345.3 L1274.7 345 L1277.1 344.7 L1279.4 344.5 L1281.8 344.4 L1284.1 344.4 L1286.4 344.5 L1288.8 344.6 L1291.1 344.9 L1293.4 345.2 L1295.8 345.6 L1298.1 346.1 L1300.4 346.6 L1302.8 347.2 L1305.1 348 L1307.4 348.9 L1309.8 350 L1312.1 351.2 L1314.4 352.5 L1316.8 353.9 L1319.1 355.4 L1321.5 356.9 L1323.8 358.4 L1326.1 360 L1328.5 361.7 L1330.8 363.4 L1333.1 365.2 L1335.5 367.1 L1337.8 369 L1340.1 371 L1342.5 373 L1344.8 375 L1347.1 377 L1349.5 379 L1351.8 381.1 L1354.2 383.1 L1356.5 385.2 L1358.8 387.3 L1361.2 389.4 L1363.5 391.5 L1365.8 393.6 L1368.2 395.7 L1370.5 397.8 L1372.8 399.9 L1375.2 402 L1377.5 404 L1379.8 406 L1382.2 408 L1384.5 410 L1386.8 412 L1389.2 414 L1391.5 416 L1393.9 417.9 L1396.2 419.8 L1398.5 421.7 L1400.9 423.5 L1403.2 425.4 L1405.5 427.2 L1407.9 428.9 L1410.2 430.7 L1412.5 432.4 L1414.9 434.1 L1417.2 435.8 L1419.5 437.5 L1421.9 439.1 L1424.2 440.7 L1426.6 442.2 L1428.9 443.7 L1431.2 445.2 L1433.6 446.6 L1435.9 447.9 L1438.2 449.3 L1440.6 450.6 L1442.9 451.9 L1445.2 453.1 L1447.6 454.3 L1449.9 455.5 L1452.2 456.7 L1454.6 457.8 L1456.9 458.9 L1459.2 460 L1461.6 461 L1463.9 462.1 L1466.3 463.1 L1468.6 464.1 L1470.9 465 L1473.3 466 L1475.6 466.9 L1477.9 467.8 L1480.3 468.7 L1482.6 469.6 L1484.9 470.5 L1487.3 471.3 L1489.6 472.2 L1491.9 473 L1494.3 473.9 L1496.6 474.7 L1498.9 475.5 L1501.3 476.3 L1503.6 477 L1506 477.7 L1508.3 478.4 L1510.6 479 L1513 479.5 L1515.3 480 L1517.6 480.5 L1520 481 L1522.3 481.4 L1524.6 481.8 L1527 482.2 L1529.3 482.6 L1531.6 482.9 L1534 483.2 L1536.3 483.6 L1538.7 483.9 L1541 484.2 L1543.3 484.5 L1545.7 484.8 L1548 485.1 L1550.3 485.4 L1552.7 485.7 L1555 486" fill="none" stroke="#ff00ff" stroke-width="5.3" stroke-linejoin="round"/>
<use href="#mt" x="1544.3" y="232.4"/><use href="#mt" x="1532.7" y="232.2"/><use href="#mt" x="1521" y="231.9"/><use href="#mt" x="1509.4" y="231.6"/><use href="#mt" x="1497.7" y="231.3"/><use href="#mt" x="1486.1" y="230.8"/><use href="#mt" x="1474.4" y="230.3"/><use href="#mt" x="1462.8" y="229.6"/><use href="#mt" x="1451.1" y="228.7"/><use href="#mt" x="1439.5" y="227.6"/><use href="#mt" x="1427.8" y="226.3"/><use href="#mt" x="1416.2" y="224.5"/><use href="#mt" x="1404.5" y="222.2"/><use href="#mt" x="1392.9" y="219.3"/><use href="#mt" x="1381.2" y="215.8"/><use href="#mt" x="1369.5" y="211.9"/><use href="#mt" x="1357.9" y="207.3"/><use href="#mt" x="1346.2" y="201.5"/><use href="#mt" x="1334.6" y="194.6"/><use href="#mt" x="1322.9" y="189.1"/><use href="#mt" x="1311.3" y="183.4"/><use href="#mt" x="1299.6" y="177.9"/><use href="#mt" x="1288" y="172.7"/><use href="#mt" x="1276.3" y="167.7"/><use href="#mt" x="1264.7" y="163.2"/><use href="#mt" x="1253" y="159.2"/><use href="#mt" x="1241.4" y="156.3"/><use href="#mt" x="1229.7" y="154.4"/><use href="#mt" x="1218.1" y="152.8"/><use href="#mt" x="1206.4" y="151.5"/><use href="#mt" x="1194.7" y="150.5"/><use href="#mt" x="1183.1" y="150"/><use href="#mt" x="1171.4" y="149.1"/><use href="#mt" x="1159.8" y="148.5"/><use href="#mt" x="1148.1" y="147.9"/><use href="#mt" x="1136.5" y="147.4"/><use href="#mt" x="1124.8" y="146.8"/><use href="#mt" x="1113.2" y="146.3"/><use href="#mt" x="1101.5" y="145.8"/><use href="#mt" x="1089.9" y="145.4"/><use href="#mt" x="1078.2" y="145.2"/><use href="#mt" x="1066.6" y="144.6"/><use href="#mt" x="1054.9" y="144.2"/><use href="#mt" x="1043.3" y="144"/><use href="#mt" x="1031.6" y="143.8"/><use href="#mt" x="1019.9" y="143.4"/><use href="#mt" x="1008.3" y="143.1"/><use href="#mt" x="996.6" y="142.3"/><use href="#mt" x="985" y="140.2"/><use href="#mt" x="973.3" y="138.2"/><use href="#mt" x="961.7" y="137.4"/><use href="#mt" x="950" y="136.9"/><use href="#mt" x="938.4" y="136.4"/><use href="#mt" x="926.7" y="136.1"/><use href="#mt" x="915.1" y="135.8"/><use href="#mt" x="903.4" y="135.6"/><use href="#mt" x="891.8" y="135.3"/><use href="#mt" x="880.1" y="135.1"/><use href="#mt" x="868.5" y="134.9"/><use href="#mt" x="856.8" y="134.6"/>
<path d="M856.7 133.1 L859 133.2 L861.4 133.2 L863.7 133.3 L866 133.3 L868.4 133.3 L870.7 133.4 L873 133.4 L875.4 133.5 L877.7 133.5 L880.1 133.6 L882.4 133.6 L884.7 133.7 L887.1 133.7 L889.4 133.8 L891.7 133.8 L894.1 133.9 L896.4 133.9 L898.7 134 L901.1 134 L903.4 134.1 L905.7 134.1 L908.1 134.2 L910.4 134.2 L912.8 134.3 L915.1 134.3 L917.4 134.4 L919.8 134.4 L922.1 134.5 L924.4 134.6 L926.8 134.6 L929.1 134.7 L931.4 134.7 L933.8 134.8 L936.1 134.9 L938.4 134.9 L940.8 135 L943.1 135.1 L945.4 135.2 L947.8 135.3 L950.1 135.4 L952.5 135.5 L954.8 135.6 L957.1 135.7 L959.5 135.8 L961.8 135.9 L964.1 136 L966.5 136.1 L968.8 136.3 L971.1 136.5 L973.5 136.7 L975.8 137 L978.1 137.3 L980.5 137.7 L982.8 138.2 L985.1 138.8 L987.5 139.3 L989.8 139.8 L992.2 140.2 L994.5 140.5 L996.8 140.8 L999.2 141 L1001.5 141.2 L1003.8 141.3 L1006.2 141.5 L1008.5 141.6 L1010.8 141.7 L1013.2 141.8 L1015.5 141.8 L1017.8 141.9 L1020.2 141.9 L1022.5 141.9 L1024.9 141.9 L1027.2 141.9 L1029.5 141.9 L1031.9 141.9 L1034.2 141.9 L1036.5 141.8 L1038.9 141.8 L1041.2 141.7 L1043.5 141.7 L1045.9 141.7 L1048.2 141.6 L1050.5 141.6 L1052.9 141.6 L1055.2 141.5 L1057.5 141.5 L1059.9 141.5 L1062.2 141.5 L1064.6 141.5 L1066.9 141.5 L1069.2 141.5 L1071.6 141.6 L1073.9 141.6 L1076.2 141.6 L1078.6 141.7 L1080.9 141.7 L1083.2 141.8 L1085.6 141.8 L1087.9 141.9 L1090.2 142 L1092.6 142.1 L1094.9 142.1 L1097.3 142.2 L1099.6 142.3 L1101.9 142.4 L1104.3 142.5 L1106.6 142.6 L1108.9 142.7 L1111.3 142.8 L1113.6 142.9 L1115.9 143 L1118.3 143.1 L1120.6 143.2 L1122.9 143.3 L1125.3 143.5 L1127.6 143.6 L1129.9 143.7 L1132.3 143.8 L1134.6 143.9 L1137 144 L1139.3 144.1 L1141.6 144.2 L1144 144.4 L1146.3 144.5 L1148.6 144.6 L1151 144.7 L1153.3 144.8 L1155.6 144.9 L1158 145 L1160.3 145.2 L1162.6 145.3 L1165 145.4 L1167.3 145.6 L1169.7 145.7 L1172 145.9 L1174.3 146 L1176.7 146.2 L1179 146.3 L1181.3 146.5 L1183.7 146.7 L1186 146.9 L1188.3 147.1 L1190.7 147.3 L1193 147.6 L1195.3 147.8 L1197.7 148.1 L1200 148.4 L1202.3 148.7 L1204.7 149 L1207 149.3 L1209.4 149.7 L1211.7 150.1 L1214 150.4 L1216.4 150.8 L1218.7 151.2 L1221 151.7 L1223.4 152.1 L1225.7 152.5 L1228 152.9 L1230.4 153.4 L1232.7 153.9 L1235 154.4 L1237.4 154.9 L1239.7 155.4 L1242 155.9 L1244.4 156.4 L1246.7 157 L1249.1 157.6 L1251.4 158.2 L1253.7 158.9 L1256.1 159.6 L1258.4 160.4 L1260.7 161.2 L1263.1 162 L1265.4 162.9 L1267.7 163.8 L1270.1 164.7 L1272.4 165.6 L1274.7 166.6 L1277.1 167.5 L1279.4 168.5 L1281.8 169.5 L1284.1 170.5 L1286.4 171.5 L1288.8 172.6 L1291.1 173.6 L1293.4 174.7 L1295.8 175.7 L1298.1 176.8 L1300.4 177.8 L1302.8 178.9 L1305.1 180 L1307.4 181.1 L1309.8 182.2 L1312.1 183.4 L1314.4 184.6 L1316.8 185.8 L1319.1 186.9 L1321.5 188 L1323.8 189 L1326.1 190 L1328.5 191.1 L1330.8 192.2 L1333.1 193.4 L1335.5 194.7 L1337.8 196.1 L1340.1 197.5 L1342.5 198.9 L1344.8 200.3 L1347.1 201.6 L1349.5 202.9 L1351.8 204.1 L1354.2 205.2 L1356.5 206.3 L1358.8 207.4 L1361.2 208.3 L1363.5 209.3 L1365.8 210.2 L1368.2 211.1 L1370.5 212 L1372.8 212.8 L1375.2 213.6 L1377.5 214.4 L1379.8 215.2 L1382.2 216 L1384.5 216.7 L1386.8 217.5 L1389.2 218.2 L1391.5 218.9 L1393.9 219.6 L1396.2 220.3 L1398.5 220.9 L1400.9 221.5 L1403.2 222.1 L1405.5 222.7 L1407.9 223.2 L1410.2 223.7 L1412.5 224.2 L1414.9 224.7 L1417.2 225.1 L1419.5 225.5 L1421.9 225.9 L1424.2 226.3 L1426.6 226.7 L1428.9 227 L1431.2 227.3 L1433.6 227.6 L1435.9 227.9 L1438.2 228.1 L1440.6 228.4 L1442.9 228.6 L1445.2 228.8 L1447.6 229.1 L1449.9 229.3 L1452.2 229.5 L1454.6 229.7 L1456.9 229.8 L1459.2 230 L1461.6 230.2 L1463.9 230.3 L1466.3 230.5 L1468.6 230.6 L1470.9 230.8 L1473.3 230.9 L1475.6 231 L1477.9 231.1 L1480.3 231.2 L1482.6 231.4 L1484.9 231.5 L1487.3 231.6 L1489.6 231.7 L1491.9 231.8 L1494.3 231.8 L1496.6 231.9 L1498.9 232 L1501.3 232.1 L1503.6 232.2 L1506 232.2 L1508.3 232.3 L1510.6 232.4 L1513 232.4 L1515.3 232.5 L1517.6 232.5 L1520 232.6 L1522.3 232.7 L1524.6 232.7 L1527 232.8 L1529.3 232.8 L1531.6 232.8 L1534 232.9 L1536.3 232.9 L1538.7 233 L1541 233 L1543.3 233 L1545.7 233.1 L1548 233.1 L1550.3 233.1 L1552.7 233.2 L1555 233.2" fill="none" stroke="#0000ff" stroke-width="5.3" stroke-linejoin="round"/>
<use href="#mxb" x="1544.3" y="420"/><use href="#mxb" x="1532.4" y="431.6"/><use href="#mxb" x="1520.5" y="439.4"/><use href="#mxb" x="1508.5" y="441.7"/><use href="#mxb" x="1496.6" y="440.7"/><use href="#mxb" x="1484.7" y="438"/><use href="#mxb" x="1472.7" y="434.7"/><use href="#mxb" x="1460.8" y="430.4"/><use href="#mxb" x="1449.1" y="424.4"/><use href="#mxb" x="1437.5" y="415.9"/><use href="#mxb" x="1425.8" y="404.6"/><use href="#mxb" x="1414.2" y="390.5"/><use href="#mxb" x="1402.5" y="374.6"/><use href="#mxb" x="1390.9" y="358.6"/><use href="#mxb" x="1379.2" y="342.2"/><use href="#mxb" x="1367.5" y="325.4"/><use href="#mxb" x="1355.9" y="310.5"/><use href="#mxb" x="1344.2" y="298.6"/><use href="#mxb" x="1333.3" y="290.4"/><use href="#mxb" x="1322.3" y="287.2"/><use href="#mxb" x="1311.3" y="288.5"/><use href="#mxb" x="1301" y="294.4"/><use href="#mxb" x="1290.6" y="303.8"/><use href="#mxb" x="1280.3" y="316.2"/><use href="#mxb" x="1268.6" y="331.8"/><use href="#mxb" x="1256.9" y="348.6"/><use href="#mxb" x="1245.2" y="365.4"/><use href="#mxb" x="1233.5" y="382"/><use href="#mxb" x="1221.8" y="397.1"/><use href="#mxb" x="1210.1" y="410.6"/><use href="#mxb" x="1198.4" y="422.4"/><use href="#mxb" x="1186.7" y="432.7"/><use href="#mxb" x="1175" y="441.6"/><use href="#mxb" x="1163.3" y="448.9"/><use href="#mxb" x="1151.6" y="454.9"/><use href="#mxb" x="1139.5" y="458.4"/><use href="#mxb" x="1127.3" y="460.5"/><use href="#mxb" x="1115.2" y="461.9"/><use href="#mxb" x="1103" y="463.2"/><use href="#mxb" x="1090.9" y="463.6"/><use href="#mxb" x="1078.7" y="463.3"/><use href="#mxb" x="1066.6" y="462.7"/><use href="#mxb" x="1054.9" y="462.6"/><use href="#mxb" x="1043.3" y="462.7"/><use href="#mxb" x="1031.6" y="463.1"/><use href="#mxb" x="1019.9" y="463.5"/><use href="#mxb" x="1008.3" y="463.3"/><use href="#mxb" x="996.6" y="461.5"/><use href="#mxb" x="985" y="459.1"/><use href="#mxb" x="973.3" y="462.7"/><use href="#mxb" x="961.7" y="469.5"/><use href="#mxb" x="950" y="473.2"/><use href="#mxb" x="938.4" y="474.9"/><use href="#mxb" x="926.7" y="475"/><use href="#mxb" x="915.1" y="474.5"/><use href="#mxb" x="903.4" y="474"/><use href="#mxb" x="891.8" y="473.6"/><use href="#mxb" x="880.1" y="473.5"/><use href="#mxb" x="868.5" y="474"/><use href="#mxb" x="856.8" y="475.1"/>
<path d="M856.7 476.1 L859 475.8 L861.4 475.6 L863.7 475.3 L866 475.1 L868.4 475 L870.7 474.8 L873 474.7 L875.4 474.6 L877.7 474.5 L880.1 474.5 L882.4 474.5 L884.7 474.5 L887.1 474.5 L889.4 474.6 L891.7 474.6 L894.1 474.7 L896.4 474.7 L898.7 474.8 L901.1 474.9 L903.4 475 L905.7 475.1 L908.1 475.2 L910.4 475.3 L912.8 475.4 L915.1 475.5 L917.4 475.7 L919.8 475.8 L922.1 475.9 L924.4 476 L926.8 476 L929.1 476.1 L931.4 476.1 L933.8 476.1 L936.1 476 L938.4 475.9 L940.8 475.6 L943.1 475.4 L945.4 475 L947.8 474.6 L950.1 474.1 L952.5 473.6 L954.8 472.9 L957.1 472.2 L959.5 471.4 L961.8 470.5 L964.1 469.5 L966.5 468.1 L968.8 466.6 L971.1 465 L973.5 463.6 L975.8 462.4 L978.1 461.5 L980.5 460.8 L982.8 460.3 L985.1 460 L987.5 460 L989.8 460.4 L992.2 461 L994.5 461.8 L996.8 462.6 L999.2 463.2 L1001.5 463.6 L1003.8 463.9 L1006.2 464.1 L1008.5 464.3 L1010.8 464.4 L1013.2 464.5 L1015.5 464.5 L1017.8 464.6 L1020.2 464.5 L1022.5 464.5 L1024.9 464.4 L1027.2 464.3 L1029.5 464.2 L1031.9 464.1 L1034.2 464 L1036.5 463.9 L1038.9 463.8 L1041.2 463.8 L1043.5 463.7 L1045.9 463.7 L1048.2 463.6 L1050.5 463.6 L1052.9 463.6 L1055.2 463.6 L1057.5 463.6 L1059.9 463.7 L1062.2 463.7 L1064.6 463.7 L1066.9 463.7 L1069.2 463.7 L1071.6 463.8 L1073.9 463.8 L1076.2 463.8 L1078.6 463.8 L1080.9 463.8 L1083.2 463.7 L1085.6 463.7 L1087.9 463.6 L1090.2 463.6 L1092.6 463.5 L1094.9 463.3 L1097.3 463.2 L1099.6 462.9 L1101.9 462.6 L1104.3 462.3 L1106.6 462 L1108.9 461.6 L1111.3 461.3 L1113.6 460.9 L1115.9 460.5 L1118.3 460.1 L1120.6 459.7 L1122.9 459.3 L1125.3 458.9 L1127.6 458.4 L1129.9 458 L1132.3 457.4 L1134.6 456.9 L1137 456.3 L1139.3 455.6 L1141.6 454.9 L1144 454 L1146.3 453.1 L1148.6 452.1 L1151 451.1 L1153.3 449.9 L1155.6 448.7 L1158 447.4 L1160.3 446.1 L1162.6 444.7 L1165 443.3 L1167.3 441.8 L1169.7 440.3 L1172 438.7 L1174.3 437 L1176.7 435.3 L1179 433.5 L1181.3 431.6 L1183.7 429.7 L1186 427.7 L1188.3 425.7 L1190.7 423.6 L1193 421.5 L1195.3 419.3 L1197.7 417.1 L1200 414.8 L1202.3 412.4 L1204.7 409.9 L1207 407.4 L1209.4 404.8 L1211.7 402.2 L1214 399.4 L1216.4 396.7 L1218.7 393.8 L1221 390.9 L1223.4 388 L1225.7 384.9 L1228 381.8 L1230.4 378.6 L1232.7 375.3 L1235 372 L1237.4 368.6 L1239.7 365.3 L1242 361.9 L1244.4 358.5 L1246.7 355.1 L1249.1 351.8 L1251.4 348.4 L1253.7 345 L1256.1 341.6 L1258.4 338.3 L1260.7 334.9 L1263.1 331.6 L1265.4 328.2 L1267.7 325 L1270.1 321.7 L1272.4 318.5 L1274.7 315.5 L1277.1 312.8 L1279.4 310.2 L1281.8 307.8 L1284.1 305.6 L1286.4 303.5 L1288.8 301.5 L1291.1 299.6 L1293.4 297.8 L1295.8 296.1 L1298.1 294.5 L1300.4 293.1 L1302.8 291.9 L1305.1 290.8 L1307.4 289.8 L1309.8 289 L1312.1 288.2 L1314.4 287.6 L1316.8 287.2 L1319.1 287 L1321.5 287 L1323.8 287.2 L1326.1 287.6 L1328.5 288.2 L1330.8 288.9 L1333.1 289.8 L1335.5 290.8 L1337.8 292 L1340.1 293.5 L1342.5 295.3 L1344.8 297.3 L1347.1 299.5 L1349.5 301.7 L1351.8 304 L1354.2 306.4 L1356.5 308.9 L1358.8 311.5 L1361.2 314.3 L1363.5 317.2 L1365.8 320.2 L1368.2 323.4 L1370.5 326.7 L1372.8 330.1 L1375.2 333.5 L1377.5 336.9 L1379.8 340.2 L1382.2 343.6 L1384.5 346.9 L1386.8 350.2 L1389.2 353.4 L1391.5 356.7 L1393.9 359.9 L1396.2 363.2 L1398.5 366.4 L1400.9 369.6 L1403.2 372.8 L1405.5 376.1 L1407.9 379.3 L1410.2 382.5 L1412.5 385.7 L1414.9 388.8 L1417.2 391.9 L1419.5 394.8 L1421.9 397.7 L1424.2 400.4 L1426.6 403.1 L1428.9 405.7 L1431.2 408.2 L1433.6 410.6 L1435.9 412.8 L1438.2 414.8 L1440.6 416.8 L1442.9 418.6 L1445.2 420.4 L1447.6 422 L1449.9 423.6 L1452.2 425.1 L1454.6 426.4 L1456.9 427.7 L1459.2 428.8 L1461.6 429.9 L1463.9 430.9 L1466.3 431.8 L1468.6 432.7 L1470.9 433.5 L1473.3 434.3 L1475.6 435.1 L1477.9 435.8 L1480.3 436.4 L1482.6 437.1 L1484.9 437.7 L1487.3 438.3 L1489.6 438.9 L1491.9 439.4 L1494.3 440 L1496.6 440.5 L1498.9 440.9 L1501.3 441.3 L1503.6 441.5 L1506 441.7 L1508.3 441.7 L1510.6 441.6 L1513 441.4 L1515.3 441 L1517.6 440.5 L1520 439.8 L1522.3 438.9 L1524.6 437.6 L1527 436.1 L1529.3 434.4 L1531.6 432.5 L1534 430.5 L1536.3 428.4 L1538.7 426.1 L1541 423.7 L1543.3 421.2 L1545.7 418.5 L1548 415.7 L1550.3 412.9 L1552.7 409.9 L1555 406.8" fill="none" stroke="#0000ff" stroke-width="5.3" stroke-linejoin="round"/>
<use href="#mcb" x="1544.3" y="312.1"/><use href="#mcb" x="1532.7" y="311.6"/><use href="#mcb" x="1521" y="311"/><use href="#mcb" x="1509.4" y="310.4"/><use href="#mcb" x="1497.7" y="309.8"/><use href="#mcb" x="1486.1" y="308.9"/><use href="#mcb" x="1474.4" y="307.8"/><use href="#mcb" x="1462.8" y="306.4"/><use href="#mcb" x="1451.1" y="304.6"/><use href="#mcb" x="1439.5" y="302.3"/><use href="#mcb" x="1427.8" y="299.5"/><use href="#mcb" x="1416.2" y="296.2"/><use href="#mcb" x="1404.5" y="292.3"/><use href="#mcb" x="1392.9" y="287.6"/><use href="#mcb" x="1381.2" y="282.1"/><use href="#mcb" x="1369.5" y="275.9"/><use href="#mcb" x="1357.9" y="268.8"/><use href="#mcb" x="1346.2" y="261.1"/><use href="#mcb" x="1334.6" y="252.6"/><use href="#mcb" x="1322.9" y="243.1"/><use href="#mcb" x="1311.3" y="232.6"/><use href="#mcb" x="1299.6" y="221.5"/><use href="#mcb" x="1288" y="210"/><use href="#mcb" x="1276.3" y="198.2"/><use href="#mcb" x="1264.7" y="186.7"/><use href="#mcb" x="1253" y="176.4"/><use href="#mcb" x="1241.4" y="167.1"/><use href="#mcb" x="1229.7" y="157.8"/><use href="#mcb" x="1218.1" y="148.5"/><use href="#mcb" x="1206.4" y="139"/><use href="#mcb" x="1194.7" y="131.9"/><use href="#mcb" x="1183.1" y="127.9"/><use href="#mcb" x="1171.4" y="123.3"/><use href="#mcb" x="1159.8" y="118.4"/><use href="#mcb" x="1148.1" y="114"/><use href="#mcb" x="1136.5" y="110.4"/><use href="#mcb" x="1124.8" y="107.5"/><use href="#mcb" x="1113.2" y="105.2"/><use href="#mcb" x="1101.5" y="103.4"/><use href="#mcb" x="1089.9" y="102"/><use href="#mcb" x="1078.2" y="100.8"/><use href="#mcb" x="1066.6" y="99.9"/><use href="#mcb" x="1054.9" y="99.2"/><use href="#mcb" x="1043.3" y="98.6"/><use href="#mcb" x="1031.6" y="98"/><use href="#mcb" x="1008.3" y="97.2"/><use href="#mcb" x="985" y="96.7"/><use href="#mcb" x="973.3" y="96.5"/><use href="#mcb" x="961.7" y="96.3"/><use href="#mcb" x="950" y="96.2"/><use href="#mcb" x="938.4" y="96"/><use href="#mcb" x="926.7" y="95.9"/><use href="#mcb" x="915.1" y="95.9"/><use href="#mcb" x="903.4" y="95.8"/><use href="#mcb" x="891.8" y="95.7"/><use href="#mcb" x="880.1" y="95.6"/><use href="#mcb" x="868.5" y="95.6"/><use href="#mcb" x="856.8" y="95.5"/>
<path d="M856.7 96.3 L859 96.3 L861.4 96.3 L863.7 96.3 L866 96.4 L868.4 96.4 L870.7 96.4 L873 96.4 L875.4 96.4 L877.7 96.4 L880.1 96.4 L882.4 96.4 L884.7 96.5 L887.1 96.5 L889.4 96.5 L891.7 96.5 L894.1 96.5 L896.4 96.5 L898.7 96.5 L901.1 96.6 L903.4 96.6 L905.7 96.6 L908.1 96.6 L910.4 96.6 L912.8 96.6 L915.1 96.7 L917.4 96.7 L919.8 96.7 L922.1 96.7 L924.4 96.7 L926.8 96.7 L929.1 96.8 L931.4 96.8 L933.8 96.8 L936.1 96.8 L938.4 96.8 L940.8 96.9 L943.1 96.9 L945.4 96.9 L947.8 96.9 L950.1 97 L952.5 97 L954.8 97 L957.1 97 L959.5 97.1 L961.8 97.1 L964.1 97.1 L966.5 97.2 L968.8 97.2 L971.1 97.2 L973.5 97.3 L975.8 97.3 L978.1 97.3 L980.5 97.4 L982.8 97.4 L985.1 97.5 L987.5 97.5 L989.8 97.5 L992.2 97.6 L994.5 97.6 L996.8 97.7 L999.2 97.7 L1001.5 97.8 L1003.8 97.9 L1006.2 97.9 L1008.5 98 L1010.8 98.1 L1013.2 98.1 L1015.5 98.2 L1017.8 98.3 L1020.2 98.4 L1022.5 98.5 L1024.9 98.6 L1027.2 98.6 L1029.5 98.7 L1031.9 98.8 L1034.2 98.9 L1036.5 99.1 L1038.9 99.2 L1041.2 99.3 L1043.5 99.4 L1045.9 99.5 L1048.2 99.6 L1050.5 99.7 L1052.9 99.9 L1055.2 100 L1057.5 100.1 L1059.9 100.3 L1062.2 100.4 L1064.6 100.6 L1066.9 100.7 L1069.2 100.9 L1071.6 101.1 L1073.9 101.3 L1076.2 101.5 L1078.6 101.7 L1080.9 101.9 L1083.2 102.1 L1085.6 102.3 L1087.9 102.6 L1090.2 102.8 L1092.6 103.1 L1094.9 103.3 L1097.3 103.6 L1099.6 103.9 L1101.9 104.2 L1104.3 104.6 L1106.6 104.9 L1108.9 105.3 L1111.3 105.6 L1113.6 106 L1115.9 106.5 L1118.3 106.9 L1120.6 107.4 L1122.9 107.8 L1125.3 108.4 L1127.6 108.9 L1129.9 109.5 L1132.3 110.1 L1134.6 110.7 L1137 111.3 L1139.3 112 L1141.6 112.7 L1144 113.4 L1146.3 114.2 L1148.6 114.9 L1151 115.7 L1153.3 116.6 L1155.6 117.4 L1158 118.3 L1160.3 119.2 L1162.6 120.2 L1165 121.1 L1167.3 122.1 L1169.7 123.1 L1172 124 L1174.3 125 L1176.7 125.9 L1179 126.8 L1181.3 127.6 L1183.7 128.4 L1186 129.1 L1188.3 129.8 L1190.7 130.6 L1193 131.4 L1195.3 132.3 L1197.7 133.3 L1200 134.5 L1202.3 135.9 L1204.7 137.6 L1207 139.5 L1209.4 141.4 L1211.7 143.4 L1214 145.3 L1216.4 147.2 L1218.7 149 L1221 150.9 L1223.4 152.7 L1225.7 154.5 L1228 156.4 L1230.4 158.3 L1232.7 160.2 L1235 162.1 L1237.4 164 L1239.7 165.8 L1242 167.7 L1244.4 169.5 L1246.7 171.3 L1249.1 173.2 L1251.4 175 L1253.7 176.9 L1256.1 178.9 L1258.4 181 L1260.7 183.1 L1263.1 185.2 L1265.4 187.4 L1267.7 189.6 L1270.1 191.9 L1272.4 194.3 L1274.7 196.6 L1277.1 199 L1279.4 201.4 L1281.8 203.8 L1284.1 206.1 L1286.4 208.5 L1288.8 210.8 L1291.1 213.1 L1293.4 215.5 L1295.8 217.8 L1298.1 220 L1300.4 222.3 L1302.8 224.5 L1305.1 226.8 L1307.4 229 L1309.8 231.2 L1312.1 233.3 L1314.4 235.5 L1316.8 237.6 L1319.1 239.7 L1321.5 241.8 L1323.8 243.8 L1326.1 245.8 L1328.5 247.7 L1330.8 249.6 L1333.1 251.5 L1335.5 253.3 L1337.8 255 L1340.1 256.8 L1342.5 258.5 L1344.8 260.1 L1347.1 261.8 L1349.5 263.3 L1351.8 264.9 L1354.2 266.4 L1356.5 267.9 L1358.8 269.4 L1361.2 270.9 L1363.5 272.3 L1365.8 273.7 L1368.2 275.1 L1370.5 276.4 L1372.8 277.7 L1375.2 279 L1377.5 280.2 L1379.8 281.4 L1382.2 282.6 L1384.5 283.7 L1386.8 284.9 L1389.2 286 L1391.5 287 L1393.9 288.1 L1396.2 289.1 L1398.5 290 L1400.9 291 L1403.2 291.9 L1405.5 292.7 L1407.9 293.5 L1410.2 294.3 L1412.5 295.1 L1414.9 295.9 L1417.2 296.6 L1419.5 297.3 L1421.9 297.9 L1424.2 298.6 L1426.6 299.2 L1428.9 299.8 L1431.2 300.4 L1433.6 300.9 L1435.9 301.5 L1438.2 302 L1440.6 302.5 L1442.9 303 L1445.2 303.5 L1447.6 304 L1449.9 304.4 L1452.2 304.8 L1454.6 305.2 L1456.9 305.6 L1459.2 306 L1461.6 306.3 L1463.9 306.6 L1466.3 306.9 L1468.6 307.2 L1470.9 307.4 L1473.3 307.7 L1475.6 307.9 L1477.9 308.2 L1480.3 308.4 L1482.6 308.6 L1484.9 308.8 L1487.3 309 L1489.6 309.2 L1491.9 309.4 L1494.3 309.5 L1496.6 309.7 L1498.9 309.8 L1501.3 310 L1503.6 310.1 L1506 310.2 L1508.3 310.4 L1510.6 310.5 L1513 310.6 L1515.3 310.7 L1517.6 310.9 L1520 311 L1522.3 311.1 L1524.6 311.2 L1527 311.3 L1529.3 311.4 L1531.6 311.5 L1534 311.6 L1536.3 311.7 L1538.7 311.8 L1541 311.9 L1543.3 312 L1545.7 312.1 L1548 312.2 L1550.3 312.3 L1552.7 312.4 L1555 312.5" fill="none" stroke="#ff0000" stroke-width="5.3" stroke-linejoin="round"/>
<use href="#msb" x="1544.3" y="466.6"/><use href="#msb" x="1532.7" y="461.9"/><use href="#msb" x="1521" y="455.5"/><use href="#msb" x="1509.4" y="447.7"/><use href="#msb" x="1497.7" y="438.3"/><use href="#msb" x="1486.1" y="429.1"/><use href="#msb" x="1474.4" y="415.6"/><use href="#msb" x="1462.8" y="400"/><use href="#msb" x="1451.1" y="382.6"/><use href="#msb" x="1439.5" y="364"/><use href="#msb" x="1427.8" y="342.6"/><use href="#msb" x="1416.2" y="318"/><use href="#msb" x="1404.5" y="291.1"/><use href="#msb" x="1392.9" y="262.9"/><use href="#msb" x="1381.2" y="233.2"/><use href="#msb" x="1369.5" y="205"/><use href="#msb" x="1357.9" y="173.4"/><use href="#msb" x="1346.2" y="149.4"/><use href="#msb" x="1334.6" y="127.2"/><use href="#msb" x="1322.9" y="108.1"/><use href="#msb" x="1311.3" y="91.9"/><use href="#msb" x="1299.6" y="81.9"/><use href="#msb" x="1288" y="75.5"/><use href="#msb" x="1276.3" y="77.9"/><use href="#msb" x="1264.7" y="77.4"/><use href="#msb" x="1253" y="89.6"/><use href="#msb" x="1241.4" y="104.5"/><use href="#msb" x="1229.7" y="126.3"/><use href="#msb" x="1218.1" y="150.7"/><use href="#msb" x="1206.4" y="178"/><use href="#msb" x="1194.7" y="208.4"/><use href="#msb" x="1183.1" y="237"/><use href="#msb" x="1171.4" y="265"/><use href="#msb" x="1159.8" y="296.1"/><use href="#msb" x="1148.1" y="321.1"/><use href="#msb" x="1136.5" y="343.5"/><use href="#msb" x="1124.8" y="365.3"/><use href="#msb" x="1113.2" y="385.1"/><use href="#msb" x="1101.5" y="402.9"/><use href="#msb" x="1089.9" y="419"/><use href="#msb" x="1078.2" y="431.1"/><use href="#msb" x="1066.6" y="442.4"/><use href="#msb" x="1054.9" y="452.6"/><use href="#msb" x="1043.3" y="460.9"/><use href="#msb" x="1031.6" y="471.4"/><use href="#msb" x="1008.3" y="479.2"/><use href="#msb" x="985" y="493.3"/><use href="#msb" x="973.3" y="472.2"/><use href="#msb" x="961.7" y="474.9"/><use href="#msb" x="950" y="477.6"/><use href="#msb" x="938.4" y="480.7"/><use href="#msb" x="926.7" y="483.2"/><use href="#msb" x="915.1" y="485.3"/><use href="#msb" x="903.4" y="486.8"/><use href="#msb" x="891.8" y="488.1"/><use href="#msb" x="880.1" y="489.2"/><use href="#msb" x="868.5" y="490.1"/><use href="#msb" x="856.8" y="490.8"/>
<path d="M856.7 489.8 L859 489.7 L861.4 489.5 L863.7 489.4 L866 489.2 L868.4 489.1 L870.7 488.9 L873 488.7 L875.4 488.5 L877.7 488.4 L880.1 488.2 L882.4 488 L884.7 487.8 L887.1 487.6 L889.4 487.3 L891.7 487.1 L894.1 486.9 L896.4 486.6 L898.7 486.4 L901.1 486.1 L903.4 485.8 L905.7 485.6 L908.1 485.3 L910.4 485 L912.8 484.6 L915.1 484.3 L917.4 483.9 L919.8 483.5 L922.1 483.1 L924.4 482.6 L926.8 482.2 L929.1 481.7 L931.4 481.2 L933.8 480.7 L936.1 480.2 L938.4 479.7 L940.8 479.1 L943.1 478.5 L945.4 477.9 L947.8 477.3 L950.1 476.6 L952.5 475.9 L954.8 475.2 L957.1 474.4 L959.5 473.6 L961.8 472.9 L964.1 472.1 L966.5 471.4 L968.8 470.6 L971.1 469.9 L973.5 469.2 L975.8 468.5 L978.1 467.9 L980.5 467.3 L982.8 466.7 L985.1 466.3 L987.5 465.8 L989.8 465.4 L992.2 464.9 L994.5 464.6 L996.8 464.2 L999.2 463.8 L1001.5 463.4 L1003.8 463 L1006.2 462.6 L1008.5 462.2 L1010.8 461.7 L1013.2 461.2 L1015.5 460.7 L1017.8 460.1 L1020.2 459.5 L1022.5 458.9 L1024.9 458.2 L1027.2 457.5 L1029.5 456.7 L1031.9 455.8 L1034.2 454.8 L1036.5 453.7 L1038.9 452.6 L1041.2 451.3 L1043.5 450 L1045.9 448.6 L1048.2 447.2 L1050.5 445.7 L1052.9 444.2 L1055.2 442.7 L1057.5 441.2 L1059.9 439.6 L1062.2 438 L1064.6 436.3 L1066.9 434.6 L1069.2 432.8 L1071.6 430.9 L1073.9 428.9 L1076.2 426.8 L1078.6 424.6 L1080.9 422.2 L1083.2 419.7 L1085.6 417.1 L1087.9 414.4 L1090.2 411.6 L1092.6 408.8 L1094.9 405.9 L1097.3 403.1 L1099.6 400.2 L1101.9 397.2 L1104.3 394.2 L1106.6 391.1 L1108.9 387.9 L1111.3 384.6 L1113.6 381.2 L1115.9 377.7 L1118.3 374 L1120.6 370.2 L1122.9 366.4 L1125.3 362.4 L1127.6 358.4 L1129.9 354.4 L1132.3 350.3 L1134.6 346.2 L1137 342.1 L1139.3 338 L1141.6 333.9 L1144 329.7 L1146.3 325.4 L1148.6 321 L1151 316.3 L1153.3 311.5 L1155.6 306.4 L1158 300.9 L1160.3 295.3 L1162.6 289.5 L1165 283.7 L1167.3 277.9 L1169.7 272.3 L1172 266.7 L1174.3 261.1 L1176.7 255.6 L1179 250.1 L1181.3 244.5 L1183.7 239 L1186 233.4 L1188.3 227.9 L1190.7 222.2 L1193 216.5 L1195.3 210.6 L1197.7 204.6 L1200 198.5 L1202.3 192.3 L1204.7 186.3 L1207 180.5 L1209.4 174.9 L1211.7 169.6 L1214 164.4 L1216.4 159.3 L1218.7 154.4 L1221 149.6 L1223.4 144.8 L1225.7 140.1 L1228 135.5 L1230.4 131.1 L1232.7 126.9 L1235 122.9 L1237.4 119.3 L1239.7 115.8 L1242 112.6 L1244.4 109.4 L1246.7 106.4 L1249.1 103.5 L1251.4 100.6 L1253.7 97.7 L1256.1 94.9 L1258.4 92.3 L1260.7 89.9 L1263.1 87.7 L1265.4 85.8 L1267.7 84 L1270.1 82.4 L1272.4 81.1 L1274.7 80 L1277.1 79.1 L1279.4 78.3 L1281.8 77.8 L1284.1 77.6 L1286.4 77.7 L1288.8 78.2 L1291.1 78.8 L1293.4 79.8 L1295.8 80.8 L1298.1 82.2 L1300.4 84 L1302.8 86 L1305.1 88.2 L1307.4 90.6 L1309.8 93.1 L1312.1 95.9 L1314.4 98.9 L1316.8 102 L1319.1 105.3 L1321.5 108.8 L1323.8 112.4 L1326.1 116.2 L1328.5 120.2 L1330.8 124.3 L1333.1 128.6 L1335.5 132.8 L1337.8 137.2 L1340.1 141.6 L1342.5 146.1 L1344.8 150.6 L1347.1 155.2 L1349.5 159.8 L1351.8 164.3 L1354.2 169 L1356.5 174.1 L1358.8 179.7 L1361.2 186.1 L1363.5 193 L1365.8 199.7 L1368.2 205.7 L1370.5 211.2 L1372.8 216.3 L1375.2 221.4 L1377.5 226.5 L1379.8 231.9 L1382.2 237.5 L1384.5 243.2 L1386.8 248.8 L1389.2 254.4 L1391.5 259.9 L1393.9 265.2 L1396.2 270.3 L1398.5 275.4 L1400.9 280.5 L1403.2 285.6 L1405.5 290.8 L1407.9 296.2 L1410.2 301.5 L1412.5 306.8 L1414.9 311.8 L1417.2 316.6 L1419.5 321.2 L1421.9 325.6 L1424.2 329.9 L1426.6 334.1 L1428.9 338.1 L1431.2 342.2 L1433.6 346.2 L1435.9 350.1 L1438.2 354 L1440.6 357.8 L1442.9 361.6 L1445.2 365.4 L1447.6 369.1 L1449.9 372.7 L1452.2 376.3 L1454.6 379.9 L1456.9 383.4 L1459.2 386.9 L1461.6 390.3 L1463.9 393.6 L1466.3 396.9 L1468.6 400 L1470.9 403.1 L1473.3 406.1 L1475.6 409 L1477.9 411.9 L1480.3 414.6 L1482.6 417.3 L1484.9 419.9 L1487.3 422.4 L1489.6 424.8 L1491.9 427.1 L1494.3 429.4 L1496.6 431.6 L1498.9 433.7 L1501.3 435.8 L1503.6 437.8 L1506 439.7 L1508.3 441.6 L1510.6 443.4 L1513 445.1 L1515.3 446.8 L1517.6 448.4 L1520 450 L1522.3 451.5 L1524.6 453 L1527 454.4 L1529.3 455.7 L1531.6 456.9 L1534 458.1 L1536.3 459.2 L1538.7 460.2 L1541 461.3 L1543.3 462.2 L1545.7 463.1 L1548 463.9 L1550.3 464.7 L1552.7 465.4 L1555 466" fill="none" stroke="#ff0000" stroke-width="5.3" stroke-linejoin="round"/>
</g>
<text x="856.8" y="534" text-anchor="middle" font-family="Liberation Sans, Arial, sans-serif" font-weight="bold" font-size="20">-1</text>
<text x="973.3" y="534" text-anchor="middle" font-family="Liberation Sans, Arial, sans-serif" font-weight="bold" font-size="20">0</text>
<text x="1089.9" y="534" text-anchor="middle" font-family="Liberation Sans, Arial, sans-serif" font-weight="bold" font-size="20">1</text>
<text x="1206.4" y="534" text-anchor="middle" font-family="Liberation Sans, Arial, sans-serif" font-weight="bold" font-size="20">2</text>
<text x="1322.9" y="534" text-anchor="middle" font-family="Liberation Sans, Arial, sans-serif" font-weight="bold" font-size="20">3</text>
<text x="1439.5" y="534" text-anchor="middle" font-family="Liberation Sans, Arial, sans-serif" font-weight="bold" font-size="20">4</text>
<text x="1556" y="534" text-anchor="middle" font-family="Liberation Sans, Arial, sans-serif" font-weight="bold" font-size="20">5</text>
<text x="846.6" y="513.5" text-anchor="end" font-family="Liberation Sans, Arial, sans-serif" font-weight="bold" font-size="20">-0.5</text>
<text x="846.6" y="391.1" text-anchor="end" font-family="Liberation Sans, Arial, sans-serif" font-weight="bold" font-size="20">0.0</text>
<text x="846.6" y="268.7" text-anchor="end" font-family="Liberation Sans, Arial, sans-serif" font-weight="bold" font-size="20">0.5</text>
<text x="846.6" y="146.3" text-anchor="end" font-family="Liberation Sans, Arial, sans-serif" font-weight="bold" font-size="20">1.0</text>
<text x="846.6" y="23.9" text-anchor="end" font-family="Liberation Sans, Arial, sans-serif" font-weight="bold" font-size="20">1.5</text>
<text x="1566" y="23.9" text-anchor="start" font-family="Liberation Sans, Arial, sans-serif" font-weight="bold" font-size="20">-40</text>
<text x="1566" y="143.2" text-anchor="start" font-family="Liberation Sans, Arial, sans-serif" font-weight="bold" font-size="20">-30</text>
<text x="1566" y="262.6" text-anchor="start" font-family="Liberation Sans, Arial, sans-serif" font-weight="bold" font-size="20">-20</text>
<text x="1566" y="382" text-anchor="start" font-family="Liberation Sans, Arial, sans-serif" font-weight="bold" font-size="20">-10</text>
<text x="1572" y="501.3" text-anchor="start" font-family="Liberation Sans, Arial, sans-serif" font-weight="bold" font-size="20">0</text>
<use href="#mc" x="608.5" y="53.3"/><path d="M586 52.4H630" stroke="#ff0000" stroke-width="3.7"/><text transform="translate(642,61.8) scale(1,1.05)" font-family="Liberation Serif, Times New Roman, serif" font-weight="bold" font-size="24.6">20 °C</text><use href="#mt" x="608.5" y="86.2"/><path d="M586 86.2H630" stroke="#0000ff" stroke-width="3.7"/><text transform="translate(642,93.3) scale(1,1.05)" font-family="Liberation Serif, Times New Roman, serif" font-weight="bold" font-size="24.6">40 °C</text><use href="#mx" x="608.5" y="116.1"/><path d="M589 118.8H631" stroke="#ff00ff" stroke-width="3.7"/><text transform="translate(642,125) scale(1,1.05)" font-family="Liberation Serif, Times New Roman, serif" font-weight="bold" font-size="24.6">60 °C</text><use href="#ms" x="608.5" y="147.6"/><path d="M587 148.9H628" stroke="#00ff00" stroke-width="3.7"/><text transform="translate(642,156.2) scale(1,1.05)" font-family="Liberation Serif, Times New Roman, serif" font-weight="bold" font-size="24.6">80 °C</text>
<use href="#mc" x="1426.2" y="54.7"/><path d="M1404.2 53.8H1447.3" stroke="#ff0000" stroke-width="3.7"/><text transform="translate(1459,61.8) scale(1,1.05)" font-family="Liberation Serif, Times New Roman, serif" font-weight="bold" font-size="24.6">20 °C</text><use href="#mt" x="1426.2" y="86.9"/><path d="M1404.2 86.9H1447.3" stroke="#0000ff" stroke-width="3.7"/><text transform="translate(1459,93.3) scale(1,1.05)" font-family="Liberation Serif, Times New Roman, serif" font-weight="bold" font-size="24.6">40 °C</text><use href="#mx" x="1426.2" y="115.9"/><path d="M1407.2 118.6H1448.3" stroke="#ff00ff" stroke-width="3.7"/><text transform="translate(1459,125) scale(1,1.05)" font-family="Liberation Serif, Times New Roman, serif" font-weight="bold" font-size="24.6">60 °C</text><use href="#ms" x="1426.2" y="146.8"/><path d="M1405.2 148.1H1445.3" stroke="#00ff00" stroke-width="3.7"/><text transform="translate(1459,156.2) scale(1,1.05)" font-family="Liberation Serif, Times New Roman, serif" font-weight="bold" font-size="24.6">80 °C</text>
<text x="101" y="68.7" font-family="Liberation Serif, Times New Roman, serif" font-weight="bold" font-size="45">(a)</text>
<text x="881.7" y="69.8" font-family="Liberation Serif, Times New Roman, serif" font-weight="bold" font-size="45">(b)</text>
<text x="357" y="585" font-family="Liberation Serif, Times New Roman, serif" font-weight="bold" font-size="24"><tspan font-style="italic">Z</tspan><tspan font-size="15" dy="10">r</tspan><tspan dy="-10"> (Ω cm</tspan><tspan font-size="15" dy="-13">2</tspan><tspan dy="13">)</tspan></text>
<text transform="translate(24.5,308) rotate(-90)" font-family="Liberation Serif, Times New Roman, serif" font-weight="bold" font-size="24"><tspan font-style="italic">Z</tspan><tspan font-size="15" dy="10">i</tspan><tspan dy="-10"> (Ω cm</tspan><tspan font-size="15" dy="-13">2</tspan><tspan dy="13">)</tspan></text>
<text x="1094" y="564.7" font-family="Liberation Serif, Times New Roman, serif" font-weight="bold" font-size="23.3">log Frequency (Hz)</text>
<text transform="translate(799,347.3) rotate(-90)" font-family="Liberation Serif, Times New Roman, serif" font-weight="bold" font-size="23.2">log |<tspan font-style="italic">Z</tspan><tspan font-size="15" dy="6">i</tspan><tspan dy="-6">| (ohm cm</tspan><tspan font-size="15" dy="-12">2</tspan><tspan dy="12">)</tspan></text>
<text transform="translate(1631,307.8) rotate(-90)" font-family="Liberation Serif, Times New Roman, serif" font-weight="bold" font-size="23.1">θ (degree)</text>
</svg></body></html>
